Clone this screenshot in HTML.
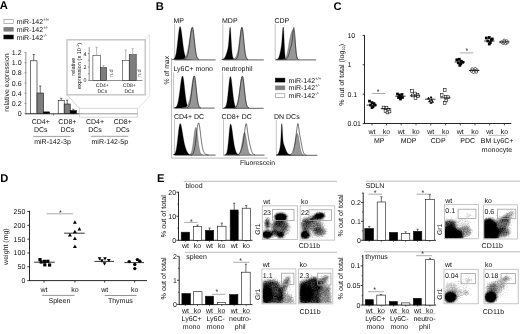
<!DOCTYPE html>
<html><head><meta charset="utf-8"><style>
html,body{margin:0;padding:0;background:#fff;}
svg{display:block;will-change:transform;}
text{font-family:"Liberation Sans", sans-serif;text-rendering:geometricPrecision;}
</style></head><body>
<svg width="520" height="334" viewBox="0 0 520 334">
<defs><filter id="sp0" color-interpolation-filters="sRGB" x="-5%" y="-5%" width="110%" height="110%">
<feGaussianBlur in="SourceGraphic" stdDeviation="1.5" result="d"/>
<feTurbulence type="fractalNoise" baseFrequency="0.8" numOctaves="2" seed="3" result="t"/>
<feColorMatrix in="t" type="matrix" values="0 0 0 0 0  0 0 0 0 0  0 0 0 0 0  1 0 0 0 0" result="n"/>
<feComposite in="d" in2="n" operator="arithmetic" k1="0" k2="1.6" k3="0.5" k4="-0.36" result="o"/>
<feGaussianBlur in="o" stdDeviation="0.75"/>
</filter><filter id="sp1" color-interpolation-filters="sRGB" x="-5%" y="-5%" width="110%" height="110%">
<feGaussianBlur in="SourceGraphic" stdDeviation="1.5" result="d"/>
<feTurbulence type="fractalNoise" baseFrequency="0.8" numOctaves="2" seed="7" result="t"/>
<feColorMatrix in="t" type="matrix" values="0 0 0 0 0  0 0 0 0 0  0 0 0 0 0  1 0 0 0 0" result="n"/>
<feComposite in="d" in2="n" operator="arithmetic" k1="0" k2="1.6" k3="0.5" k4="-0.36" result="o"/>
<feGaussianBlur in="o" stdDeviation="0.75"/>
</filter><filter id="sp2" color-interpolation-filters="sRGB" x="-5%" y="-5%" width="110%" height="110%">
<feGaussianBlur in="SourceGraphic" stdDeviation="1.5" result="d"/>
<feTurbulence type="fractalNoise" baseFrequency="0.8" numOctaves="2" seed="11" result="t"/>
<feColorMatrix in="t" type="matrix" values="0 0 0 0 0  0 0 0 0 0  0 0 0 0 0  1 0 0 0 0" result="n"/>
<feComposite in="d" in2="n" operator="arithmetic" k1="0" k2="1.6" k3="0.5" k4="-0.36" result="o"/>
<feGaussianBlur in="o" stdDeviation="0.75"/>
</filter></defs>
<rect width="520" height="334" fill="#fff"/>
<text x="-0.20" y="9.40" font-size="11.2" text-anchor="start" fill="#000" font-weight="bold">A</text>
<rect x="3.90" y="19.60" width="9.30" height="3.80" fill="#fff" stroke="#999" stroke-width="0.7"/>
<text x="16.7" y="24.10" font-size="7" fill="#111">miR-142<tspan font-size="4.3" dy="-2.9">+/+</tspan></text>
<rect x="3.90" y="27.35" width="9.30" height="3.80" fill="#7d7d7d" stroke="#7d7d7d" stroke-width="0.7"/>
<text x="16.7" y="31.85" font-size="7" fill="#111">miR-142<tspan font-size="4.3" dy="-2.9">+/-</tspan></text>
<rect x="3.90" y="35.10" width="9.30" height="3.80" fill="#000" stroke="#000" stroke-width="0.7"/>
<text x="16.7" y="39.60" font-size="7" fill="#111">miR-142<tspan font-size="4.3" dy="-2.9">-/-</tspan></text>
<line x1="25.80" y1="52.30" x2="25.80" y2="114.20" stroke="#888" stroke-width="0.9"/>
<line x1="24.30" y1="113.60" x2="26.50" y2="113.60" stroke="#888" stroke-width="0.7"/>
<text x="21.60" y="116.10" font-size="7" text-anchor="end" fill="#111">0</text>
<line x1="24.30" y1="103.42" x2="26.50" y2="103.42" stroke="#888" stroke-width="0.7"/>
<text x="21.60" y="105.92" font-size="7" text-anchor="end" fill="#111">0.2</text>
<line x1="24.30" y1="93.24" x2="26.50" y2="93.24" stroke="#888" stroke-width="0.7"/>
<text x="21.60" y="95.74" font-size="7" text-anchor="end" fill="#111">0.4</text>
<line x1="24.30" y1="83.06" x2="26.50" y2="83.06" stroke="#888" stroke-width="0.7"/>
<text x="21.60" y="85.56" font-size="7" text-anchor="end" fill="#111">0.6</text>
<line x1="24.30" y1="72.88" x2="26.50" y2="72.88" stroke="#888" stroke-width="0.7"/>
<text x="21.60" y="75.38" font-size="7" text-anchor="end" fill="#111">0.8</text>
<line x1="24.30" y1="62.70" x2="26.50" y2="62.70" stroke="#888" stroke-width="0.7"/>
<text x="21.60" y="65.20" font-size="7" text-anchor="end" fill="#111">1.0</text>
<line x1="24.30" y1="52.52" x2="26.50" y2="52.52" stroke="#888" stroke-width="0.7"/>
<text x="21.60" y="55.02" font-size="7" text-anchor="end" fill="#111">1.2</text>
<text x="8.60" y="82.50" font-size="7" text-anchor="middle" fill="#111" transform="rotate(-90 8.6 82.5)">relative expression</text>
<line x1="25.50" y1="113.80" x2="79.50" y2="113.80" stroke="#222" stroke-width="0.9"/>
<line x1="53.60" y1="113.80" x2="53.60" y2="115.50" stroke="#333" stroke-width="0.7"/>
<rect x="30.50" y="60.80" width="6.50" height="52.80" fill="#fff" stroke="#111" stroke-width="0.6"/>
<line x1="33.75" y1="60.80" x2="33.75" y2="54.50" stroke="#333" stroke-width="0.7"/>
<line x1="32.65" y1="54.50" x2="34.85" y2="54.50" stroke="#333" stroke-width="0.7"/>
<rect x="37.00" y="93.00" width="6.50" height="20.60" fill="#7d7d7d" stroke="#111" stroke-width="0.6"/>
<line x1="40.25" y1="93.00" x2="40.25" y2="86.00" stroke="#333" stroke-width="0.7"/>
<line x1="39.15" y1="86.00" x2="41.35" y2="86.00" stroke="#333" stroke-width="0.7"/>
<rect x="43.50" y="111.90" width="6.10" height="1.70" fill="#000" stroke="#111" stroke-width="0.6"/>
<rect x="58.20" y="100.40" width="6.00" height="13.20" fill="#fff" stroke="#111" stroke-width="0.6"/>
<line x1="61.20" y1="100.40" x2="61.20" y2="98.30" stroke="#333" stroke-width="0.7"/>
<line x1="60.10" y1="98.30" x2="62.30" y2="98.30" stroke="#333" stroke-width="0.7"/>
<rect x="64.20" y="104.00" width="6.00" height="9.60" fill="#7d7d7d" stroke="#111" stroke-width="0.6"/>
<line x1="67.20" y1="104.00" x2="67.20" y2="100.20" stroke="#333" stroke-width="0.7"/>
<line x1="66.10" y1="100.20" x2="68.30" y2="100.20" stroke="#333" stroke-width="0.7"/>
<rect x="70.20" y="110.60" width="6.20" height="3.00" fill="#000" stroke="#111" stroke-width="0.6"/>
<line x1="73.30" y1="110.60" x2="73.30" y2="109.30" stroke="#333" stroke-width="0.7"/>
<line x1="72.20" y1="109.30" x2="74.40" y2="109.30" stroke="#333" stroke-width="0.7"/>
<text x="40.70" y="124.30" font-size="7" text-anchor="middle" fill="#111">CD4+</text>
<text x="40.70" y="132.30" font-size="7" text-anchor="middle" fill="#111">DCs</text>
<text x="67.40" y="124.30" font-size="7" text-anchor="middle" fill="#111">CD8+</text>
<text x="67.40" y="132.30" font-size="7" text-anchor="middle" fill="#111">DCs</text>
<text x="95.00" y="124.30" font-size="7" text-anchor="middle" fill="#111">CD4+</text>
<text x="95.00" y="132.30" font-size="7" text-anchor="middle" fill="#111">DCs</text>
<text x="122.80" y="124.30" font-size="7" text-anchor="middle" fill="#111">CD8+</text>
<text x="122.80" y="132.30" font-size="7" text-anchor="middle" fill="#111">DCs</text>
<line x1="33.20" y1="136.40" x2="70.70" y2="136.40" stroke="#777" stroke-width="0.7"/>
<line x1="90.80" y1="136.30" x2="128.20" y2="136.30" stroke="#777" stroke-width="0.7"/>
<text x="52.50" y="144.00" font-size="7" text-anchor="middle" fill="#111">miR-142-3p</text>
<text x="109.80" y="144.00" font-size="7" text-anchor="middle" fill="#111">miR-142-5p</text>
<path d="M67,94.8 L79.5,108.3" fill="none" stroke="#c4c4c4" stroke-width="0.8"/>
<path d="M145.2,39.8 L149.6,34.2 L149.6,96 L138.3,108.3" fill="none" stroke="#dadada" stroke-width="0.8"/>
<rect x="79.50" y="108.30" width="58.00" height="8.90" fill="none" stroke="#cfcfcf" stroke-width="0.8"/>
<line x1="79.50" y1="113.80" x2="137.30" y2="113.80" stroke="#555" stroke-width="0.6"/>
<rect x="67.00" y="39.80" width="78.20" height="55.00" fill="none" stroke="#c4c4c4" stroke-width="1.4"/>
<line x1="89.20" y1="47.20" x2="89.20" y2="80.60" stroke="#444" stroke-width="0.6"/>
<line x1="87.90" y1="80.40" x2="89.20" y2="80.40" stroke="#444" stroke-width="0.5"/>
<line x1="87.90" y1="73.70" x2="89.20" y2="73.70" stroke="#444" stroke-width="0.5"/>
<line x1="87.90" y1="67.00" x2="89.20" y2="67.00" stroke="#444" stroke-width="0.5"/>
<line x1="87.90" y1="60.30" x2="89.20" y2="60.30" stroke="#444" stroke-width="0.5"/>
<line x1="87.90" y1="53.60" x2="89.20" y2="53.60" stroke="#444" stroke-width="0.5"/>
<text x="86.40" y="82.30" font-size="5.3" text-anchor="end" fill="#111">0</text>
<text x="86.40" y="68.90" font-size="5.3" text-anchor="end" fill="#111">2</text>
<text x="86.40" y="55.50" font-size="5.3" text-anchor="end" fill="#111">4</text>
<text x="75.50" y="66.60" font-size="5.6" text-anchor="middle" fill="#111" transform="rotate(-90 75.5 66.6)">relative</text>
<text x="80.6" y="66.0" font-size="5.6" text-anchor="middle" fill="#111" transform="rotate(-90 80.6 66.0)">expression (x 10<tspan font-size="3.6" dy="-2">-1</tspan><tspan dy="2">)</tspan></text>
<line x1="89.20" y1="80.50" x2="142.50" y2="80.50" stroke="#444" stroke-width="0.6"/>
<rect x="92.90" y="55.40" width="7.50" height="25.00" fill="#fff" stroke="#111" stroke-width="0.5"/>
<line x1="96.65" y1="55.40" x2="96.65" y2="47.30" stroke="#999" stroke-width="0.7"/>
<line x1="95.55" y1="47.30" x2="97.75" y2="47.30" stroke="#999" stroke-width="0.7"/>
<rect x="100.40" y="67.60" width="6.20" height="12.80" fill="#7d7d7d" stroke="#111" stroke-width="0.5"/>
<line x1="103.50" y1="67.60" x2="103.50" y2="65.60" stroke="#999" stroke-width="0.7"/>
<line x1="102.40" y1="65.60" x2="104.60" y2="65.60" stroke="#999" stroke-width="0.7"/>
<rect x="122.30" y="60.50" width="6.90" height="19.90" fill="#fff" stroke="#111" stroke-width="0.5"/>
<line x1="125.75" y1="60.50" x2="125.75" y2="50.00" stroke="#999" stroke-width="0.7"/>
<line x1="124.65" y1="50.00" x2="126.85" y2="50.00" stroke="#999" stroke-width="0.7"/>
<rect x="129.20" y="54.70" width="7.00" height="25.70" fill="#7d7d7d" stroke="#111" stroke-width="0.5"/>
<line x1="132.70" y1="54.70" x2="132.70" y2="48.70" stroke="#999" stroke-width="0.7"/>
<line x1="131.60" y1="48.70" x2="133.80" y2="48.70" stroke="#999" stroke-width="0.7"/>
<text x="112.60" y="73.20" font-size="5.6" text-anchor="middle" fill="#555" transform="rotate(-90 112.6 73.2)">n.d</text>
<text x="141.50" y="73.20" font-size="5.6" text-anchor="middle" fill="#555" transform="rotate(-90 141.5 73.2)">n.d</text>
<text x="102.30" y="87.30" font-size="5" text-anchor="middle" fill="#111">CD4+</text>
<text x="102.30" y="93.40" font-size="5" text-anchor="middle" fill="#111">DCs</text>
<text x="129.30" y="87.30" font-size="5" text-anchor="middle" fill="#111">CD8+</text>
<text x="129.30" y="93.40" font-size="5" text-anchor="middle" fill="#111">DCs</text>
<text x="155.80" y="9.60" font-size="11.2" text-anchor="start" fill="#000" font-weight="bold">B</text>
<text x="173.40" y="22.60" font-size="7" text-anchor="start" fill="#111">MP</text>
<line x1="174.60" y1="24.00" x2="174.60" y2="59.50" stroke="#aaa" stroke-width="0.7"/>
<line x1="174.60" y1="59.80" x2="215.60" y2="59.80" stroke="#808080" stroke-width="1.2"/>
<path d="M171.60,59.50 L171.60,59.47 L171.85,59.46 L172.09,59.45 L172.34,59.43 L172.59,59.40 L172.84,59.36 L173.09,59.30 L173.33,59.22 L173.58,59.11 L173.83,58.97 L174.07,58.78 L174.32,58.53 L174.57,58.20 L174.82,57.79 L175.06,57.26 L175.31,56.61 L175.56,55.82 L175.81,54.86 L176.06,53.72 L176.30,52.39 L176.55,50.87 L176.80,49.16 L177.04,47.26 L177.29,45.21 L177.54,43.03 L177.79,40.77 L178.03,38.47 L178.28,36.20 L178.53,34.03 L178.78,32.03 L179.03,30.26 L179.27,28.78 L179.52,27.65 L179.77,26.92 L180.01,26.60 L180.26,26.69 L180.51,27.17 L180.76,28.01 L181.00,29.18 L181.25,30.65 L181.50,32.36 L181.75,34.25 L182.00,36.26 L182.24,38.35 L182.49,40.44 L182.74,42.51 L182.99,44.49 L183.23,46.37 L183.48,48.12 L183.73,49.71 L183.97,51.15 L184.22,52.42 L184.47,53.54 L184.72,54.51 L184.97,55.34 L185.21,56.04 L185.46,56.64 L185.71,57.14 L185.96,57.55 L186.20,57.90 L186.45,58.18 L186.70,58.42 L186.94,58.61 L187.19,58.77 L187.44,58.90 L187.69,59.01 L187.94,59.10 L188.18,59.17 L188.43,59.23 L188.68,59.28 L188.93,59.33 L189.17,59.36 L189.42,59.39 L189.67,59.41 L189.91,59.43 L190.16,59.44 L190.41,59.46 L190.66,59.47 L190.91,59.47 L191.15,59.48 L191.40,59.48 L191.40,59.50 Z" fill="#000" stroke="#000" stroke-width="0.3"/>
<path d="M180.25,59.50 L180.25,59.49 L180.48,59.48 L180.72,59.47 L180.95,59.47 L181.18,59.46 L181.42,59.44 L181.65,59.42 L181.88,59.40 L182.12,59.37 L182.35,59.34 L182.58,59.30 L182.81,59.24 L183.05,59.18 L183.28,59.10 L183.51,59.01 L183.75,58.90 L183.98,58.77 L184.21,58.62 L184.45,58.44 L184.68,58.24 L184.91,58.00 L185.15,57.72 L185.38,57.41 L185.61,57.04 L185.84,56.63 L186.08,56.16 L186.31,55.63 L186.54,55.03 L186.78,54.35 L187.01,53.60 L187.24,52.76 L187.48,51.83 L187.71,50.81 L187.94,49.69 L188.18,48.48 L188.41,47.17 L188.64,45.78 L188.88,44.31 L189.11,42.77 L189.34,41.18 L189.57,39.57 L189.81,37.94 L190.04,36.33 L190.27,34.77 L190.51,33.29 L190.74,31.91 L190.97,30.68 L191.21,29.61 L191.44,28.74 L191.67,28.08 L191.91,27.67 L192.14,27.50 L192.37,27.60 L192.61,28.07 L192.84,28.93 L193.07,30.15 L193.31,31.70 L193.54,33.51 L193.77,35.52 L194.00,37.67 L194.24,39.89 L194.47,42.12 L194.70,44.31 L194.94,46.39 L195.17,48.34 L195.40,50.13 L195.64,51.74 L195.87,53.16 L196.10,54.38 L196.34,55.43 L196.57,56.31 L196.80,57.03 L197.03,57.61 L197.27,58.08 L197.50,58.44 L197.73,58.72 L197.97,58.94 L198.20,59.10 L198.43,59.22 L198.67,59.30 L198.90,59.37 L198.90,59.50 Z" fill="#979797" stroke="#555" stroke-width="0.45"/>
<path d="M184.48,59.50 L184.48,59.36 L184.66,59.32 L184.84,59.27 L185.02,59.21 L185.21,59.14 L185.39,59.05 L185.57,58.94 L185.75,58.81 L185.93,58.65 L186.11,58.46 L186.30,58.23 L186.48,57.97 L186.66,57.66 L186.84,57.30 L187.02,56.89 L187.20,56.41 L187.38,55.87 L187.57,55.26 L187.75,54.58 L187.93,53.82 L188.11,52.98 L188.29,52.06 L188.47,51.05 L188.65,49.97 L188.84,48.80 L189.02,47.57 L189.20,46.26 L189.38,44.90 L189.56,43.49 L189.74,42.04 L189.93,40.57 L190.11,39.09 L190.29,37.63 L190.47,36.19 L190.65,34.80 L190.83,33.47 L191.01,32.23 L191.20,31.09 L191.38,30.08 L191.56,29.20 L191.74,28.48 L191.92,27.92 L192.10,27.53 L192.28,27.32 L192.47,27.30 L192.65,27.53 L192.83,28.02 L193.01,28.75 L193.19,29.71 L193.37,30.88 L193.56,32.23 L193.74,33.73 L193.92,35.35 L194.10,37.05 L194.28,38.80 L194.46,40.57 L194.64,42.33 L194.83,44.06 L195.01,45.72 L195.19,47.31 L195.37,48.80 L195.55,50.19 L195.73,51.46 L195.91,52.62 L196.10,53.66 L196.28,54.58 L196.46,55.39 L196.64,56.10 L196.82,56.70 L197.00,57.22 L197.19,57.66 L197.37,58.02 L197.55,58.33 L197.73,58.57 L197.91,58.78 L198.09,58.94 L198.27,59.07 L198.46,59.17 L198.64,59.25 L198.82,59.31 L199.00,59.36" fill="none" stroke="#111" stroke-width="0.6"/>
<text x="222.00" y="22.70" font-size="7" text-anchor="start" fill="#111">MDP</text>
<line x1="222.80" y1="24.00" x2="222.80" y2="59.50" stroke="#aaa" stroke-width="0.7"/>
<line x1="222.80" y1="59.80" x2="263.80" y2="59.80" stroke="#808080" stroke-width="1.2"/>
<path d="M221.48,59.50 L221.48,59.45 L221.65,59.43 L221.83,59.41 L222.00,59.39 L222.17,59.37 L222.35,59.33 L222.52,59.30 L222.69,59.25 L222.87,59.19 L223.04,59.13 L223.21,59.05 L223.39,58.96 L223.56,58.85 L223.73,58.73 L223.91,58.59 L224.08,58.43 L224.25,58.25 L224.43,58.04 L224.60,57.81 L224.77,57.56 L224.95,57.27 L225.12,56.96 L225.29,56.62 L225.46,56.25 L225.64,55.85 L225.81,55.42 L225.98,54.97 L226.16,54.49 L226.33,53.99 L226.50,53.47 L226.68,52.94 L226.85,52.38 L227.02,51.82 L227.20,51.24 L227.37,50.63 L227.54,49.99 L227.72,49.28 L227.89,48.49 L228.06,47.58 L228.24,46.48 L228.41,45.17 L228.58,43.59 L228.76,41.72 L228.93,39.59 L229.10,37.23 L229.28,34.77 L229.45,32.35 L229.62,30.20 L229.80,28.53 L229.97,27.52 L230.14,27.30 L230.32,27.93 L230.49,29.37 L230.66,31.53 L230.84,34.22 L231.01,37.25 L231.18,40.40 L231.36,43.47 L231.53,46.31 L231.70,48.83 L231.88,50.98 L232.05,52.75 L232.22,54.18 L232.39,55.31 L232.57,56.20 L232.74,56.89 L232.91,57.43 L233.09,57.85 L233.26,58.19 L233.43,58.46 L233.61,58.67 L233.78,58.85 L233.95,58.99 L234.13,59.10 L234.30,59.19 L234.47,59.26 L234.65,59.32 L234.82,59.37 L234.99,59.40 L235.17,59.43 L235.34,59.45 L235.34,59.50 Z" fill="#000" stroke="#000" stroke-width="0.3"/>
<path d="M230.25,59.50 L230.25,59.48 L230.47,59.48 L230.69,59.47 L230.91,59.46 L231.13,59.45 L231.35,59.44 L231.57,59.42 L231.79,59.40 L232.01,59.37 L232.23,59.34 L232.45,59.30 L232.67,59.26 L232.89,59.20 L233.11,59.14 L233.33,59.06 L233.55,58.97 L233.77,58.87 L233.99,58.76 L234.21,58.62 L234.43,58.47 L234.65,58.30 L234.87,58.11 L235.09,57.90 L235.31,57.66 L235.53,57.39 L235.75,57.08 L235.97,56.74 L236.19,56.36 L236.41,55.92 L236.63,55.43 L236.85,54.87 L237.07,54.23 L237.29,53.51 L237.51,52.69 L237.73,51.77 L237.95,50.74 L238.17,49.59 L238.39,48.31 L238.61,46.92 L238.83,45.41 L239.05,43.80 L239.26,42.11 L239.48,40.35 L239.70,38.56 L239.92,36.77 L240.14,35.02 L240.36,33.36 L240.58,31.82 L240.80,30.46 L241.02,29.31 L241.24,28.42 L241.46,27.80 L241.68,27.50 L241.90,27.52 L242.12,27.92 L242.34,28.75 L242.56,29.99 L242.78,31.58 L243.00,33.47 L243.22,35.58 L243.44,37.83 L243.66,40.16 L243.88,42.49 L244.10,44.76 L244.32,46.91 L244.54,48.90 L244.76,50.71 L244.98,52.32 L245.20,53.72 L245.42,54.92 L245.64,55.92 L245.86,56.74 L246.08,57.41 L246.30,57.93 L246.52,58.35 L246.74,58.66 L246.96,58.90 L247.18,59.08 L247.40,59.21 L247.62,59.30 L247.84,59.36 L247.84,59.50 Z" fill="#979797" stroke="#555" stroke-width="0.45"/>
<path d="M235.40,59.50 L235.40,59.36 L235.56,59.32 L235.71,59.27 L235.87,59.21 L236.03,59.13 L236.18,59.03 L236.34,58.91 L236.50,58.77 L236.65,58.60 L236.81,58.39 L236.97,58.14 L237.12,57.85 L237.28,57.51 L237.44,57.11 L237.59,56.65 L237.75,56.13 L237.91,55.53 L238.06,54.85 L238.22,54.09 L238.38,53.25 L238.53,52.32 L238.69,51.30 L238.85,50.20 L239.01,49.00 L239.16,47.73 L239.32,46.39 L239.48,44.98 L239.63,43.52 L239.79,42.02 L239.95,40.50 L240.10,38.97 L240.26,37.45 L240.42,35.97 L240.57,34.54 L240.73,33.18 L240.89,31.92 L241.04,30.78 L241.20,29.78 L241.36,28.92 L241.51,28.24 L241.67,27.73 L241.83,27.42 L241.98,27.30 L242.14,27.40 L242.30,27.73 L242.45,28.31 L242.61,29.10 L242.77,30.10 L242.92,31.27 L243.08,32.61 L243.24,34.08 L243.39,35.64 L243.55,37.29 L243.71,38.97 L243.86,40.67 L244.02,42.36 L244.18,44.01 L244.33,45.62 L244.49,47.15 L244.65,48.59 L244.81,49.94 L244.96,51.18 L245.12,52.32 L245.28,53.35 L245.43,54.27 L245.59,55.09 L245.75,55.80 L245.90,56.43 L246.06,56.97 L246.22,57.43 L246.37,57.82 L246.53,58.14 L246.69,58.41 L246.84,58.64 L247.00,58.82 L247.16,58.97 L247.31,59.09 L247.47,59.18 L247.63,59.26 L247.78,59.32 L247.94,59.36" fill="none" stroke="#111" stroke-width="0.6"/>
<text x="274.40" y="22.70" font-size="7" text-anchor="start" fill="#111">CDP</text>
<line x1="275.20" y1="24.00" x2="275.20" y2="59.50" stroke="#aaa" stroke-width="0.7"/>
<line x1="275.20" y1="59.80" x2="316.20" y2="59.80" stroke="#808080" stroke-width="1.2"/>
<path d="M276.26,59.50 L276.26,59.44 L276.38,59.43 L276.51,59.41 L276.63,59.39 L276.75,59.37 L276.88,59.33 L277.00,59.30 L277.13,59.25 L277.25,59.20 L277.37,59.14 L277.50,59.07 L277.62,58.98 L277.75,58.89 L277.87,58.78 L277.99,58.65 L278.12,58.50 L278.24,58.34 L278.36,58.15 L278.49,57.94 L278.61,57.70 L278.74,57.45 L278.86,57.16 L278.98,56.85 L279.11,56.51 L279.23,56.14 L279.35,55.75 L279.48,55.32 L279.60,54.88 L279.72,54.40 L279.85,53.91 L279.97,53.39 L280.10,52.85 L280.22,52.30 L280.34,51.73 L280.47,51.14 L280.59,50.53 L280.71,49.90 L280.84,49.24 L280.96,48.55 L281.09,47.81 L281.21,47.01 L281.33,46.12 L281.46,45.15 L281.58,44.06 L281.70,42.84 L281.83,41.49 L281.95,39.99 L282.08,38.36 L282.20,36.61 L282.32,34.82 L282.45,33.07 L282.57,31.42 L282.69,29.94 L282.82,28.70 L282.94,27.75 L283.07,27.17 L283.19,27.00 L283.31,27.28 L283.44,28.01 L283.56,29.28 L283.68,31.05 L283.81,33.26 L283.93,35.79 L284.06,38.53 L284.18,41.33 L284.30,44.10 L284.43,46.72 L284.55,49.12 L284.67,51.25 L284.80,53.08 L284.92,54.61 L285.05,55.85 L285.17,56.83 L285.29,57.58 L285.42,58.15 L285.54,58.57 L285.66,58.86 L285.79,59.07 L285.91,59.22 L286.04,59.32 L286.16,59.38 L286.16,59.50 Z" fill="#000" stroke="#000" stroke-width="0.3"/>
<path d="M283.41,59.50 L283.41,59.40 L283.60,59.37 L283.79,59.33 L283.98,59.29 L284.17,59.22 L284.36,59.15 L284.55,59.06 L284.74,58.94 L284.93,58.80 L285.12,58.64 L285.31,58.44 L285.50,58.20 L285.69,57.93 L285.88,57.60 L286.07,57.23 L286.26,56.79 L286.45,56.30 L286.64,55.75 L286.83,55.13 L287.02,54.44 L287.21,53.68 L287.40,52.85 L287.59,51.96 L287.78,51.00 L287.97,49.99 L288.16,48.93 L288.35,47.83 L288.54,46.70 L288.73,45.56 L288.92,44.40 L289.11,43.26 L289.30,42.14 L289.49,41.04 L289.68,40.00 L289.87,39.00 L290.06,38.05 L290.25,37.16 L290.44,36.33 L290.63,35.55 L290.82,34.81 L291.01,34.10 L291.21,33.44 L291.40,32.84 L291.59,32.29 L291.78,31.77 L291.97,31.29 L292.16,30.83 L292.35,30.42 L292.54,30.05 L292.73,29.76 L292.92,29.56 L293.11,29.50 L293.30,29.60 L293.49,29.90 L293.68,30.41 L293.87,31.16 L294.06,32.16 L294.25,33.44 L294.44,34.98 L294.63,36.75 L294.82,38.70 L295.01,40.77 L295.20,42.90 L295.39,45.03 L295.58,47.08 L295.77,49.02 L295.96,50.81 L296.15,52.41 L296.34,53.82 L296.53,55.03 L296.72,56.04 L296.91,56.86 L297.10,57.53 L297.29,58.05 L297.48,58.45 L297.67,58.76 L297.86,58.98 L298.05,59.14 L298.24,59.26 L298.43,59.34 L298.62,59.40 L298.62,59.50 Z" fill="#979797" stroke="#555" stroke-width="0.45"/>
<path d="M284.90,59.50 L284.90,59.44 L285.07,59.43 L285.23,59.41 L285.40,59.38 L285.57,59.34 L285.74,59.30 L285.90,59.24 L286.07,59.18 L286.24,59.10 L286.41,59.00 L286.57,58.88 L286.74,58.74 L286.91,58.58 L287.08,58.39 L287.24,58.17 L287.41,57.91 L287.58,57.62 L287.75,57.30 L287.91,56.93 L288.08,56.52 L288.25,56.08 L288.41,55.59 L288.58,55.07 L288.75,54.51 L288.92,53.92 L289.08,53.31 L289.25,52.67 L289.42,52.02 L289.59,51.37 L289.75,50.71 L289.92,50.07 L290.09,49.44 L290.26,48.83 L290.42,48.25 L290.59,47.69 L290.76,47.14 L290.93,46.61 L291.09,46.06 L291.26,45.47 L291.43,44.82 L291.60,44.07 L291.76,43.25 L291.93,42.32 L292.10,41.25 L292.26,40.01 L292.43,38.59 L292.60,37.00 L292.77,35.30 L292.93,33.53 L293.10,31.80 L293.27,30.22 L293.44,28.90 L293.60,27.96 L293.77,27.50 L293.94,27.59 L294.11,28.22 L294.27,29.27 L294.44,30.68 L294.61,32.42 L294.78,34.43 L294.94,36.64 L295.11,38.97 L295.28,41.35 L295.44,43.71 L295.61,45.97 L295.78,48.10 L295.95,50.04 L296.11,51.78 L296.28,53.30 L296.45,54.61 L296.62,55.70 L296.78,56.59 L296.95,57.31 L297.12,57.88 L297.29,58.32 L297.45,58.66 L297.62,58.91 L297.79,59.09 L297.96,59.22 L298.12,59.31 L298.29,59.38" fill="none" stroke="#111" stroke-width="0.6"/>
<text x="173.40" y="71.00" font-size="7" text-anchor="start" fill="#111">Ly6C+ mono</text>
<line x1="173.60" y1="72.40" x2="173.60" y2="107.90" stroke="#aaa" stroke-width="0.7"/>
<line x1="173.60" y1="108.20" x2="214.60" y2="108.20" stroke="#808080" stroke-width="1.2"/>
<path d="M174.58,107.90 L174.58,107.76 L174.77,107.72 L174.95,107.67 L175.14,107.61 L175.32,107.54 L175.51,107.44 L175.69,107.33 L175.88,107.19 L176.06,107.02 L176.25,106.82 L176.44,106.59 L176.62,106.31 L176.81,105.98 L176.99,105.61 L177.18,105.17 L177.36,104.67 L177.55,104.10 L177.74,103.45 L177.92,102.73 L178.11,101.92 L178.29,101.04 L178.48,100.06 L178.66,99.00 L178.85,97.86 L179.04,96.64 L179.22,95.35 L179.41,94.00 L179.59,92.58 L179.78,91.13 L179.96,89.65 L180.15,88.15 L180.33,86.66 L180.52,85.19 L180.71,83.77 L180.89,82.41 L181.08,81.13 L181.26,79.96 L181.45,78.91 L181.63,78.00 L181.82,77.24 L182.00,76.66 L182.19,76.25 L182.38,76.03 L182.56,76.00 L182.75,76.21 L182.93,76.66 L183.12,77.34 L183.30,78.24 L183.49,79.34 L183.68,80.61 L183.86,82.03 L184.05,83.57 L184.23,85.19 L184.42,86.87 L184.60,88.58 L184.79,90.28 L184.98,91.96 L185.16,93.60 L185.35,95.16 L185.53,96.64 L185.72,98.03 L185.90,99.32 L186.09,100.49 L186.27,101.55 L186.46,102.51 L186.65,103.35 L186.83,104.10 L187.02,104.74 L187.20,105.30 L187.39,105.77 L187.57,106.18 L187.76,106.51 L187.94,106.79 L188.13,107.02 L188.32,107.21 L188.50,107.36 L188.69,107.48 L188.87,107.58 L189.06,107.66 L189.24,107.72 L189.43,107.76 L189.43,107.90 Z" fill="#000" stroke="#000" stroke-width="0.3"/>
<path d="M181.75,107.90 L181.75,107.89 L181.98,107.88 L182.22,107.88 L182.45,107.87 L182.69,107.86 L182.92,107.84 L183.15,107.83 L183.39,107.81 L183.62,107.78 L183.86,107.75 L184.09,107.71 L184.32,107.66 L184.56,107.60 L184.79,107.53 L185.03,107.45 L185.26,107.36 L185.49,107.25 L185.73,107.12 L185.96,106.98 L186.20,106.81 L186.43,106.62 L186.66,106.41 L186.90,106.17 L187.13,105.89 L187.37,105.59 L187.60,105.24 L187.83,104.86 L188.07,104.42 L188.30,103.93 L188.54,103.39 L188.77,102.77 L189.00,102.07 L189.24,101.30 L189.47,100.43 L189.71,99.47 L189.94,98.41 L190.17,97.24 L190.41,95.97 L190.64,94.60 L190.88,93.14 L191.11,91.60 L191.34,89.99 L191.58,88.34 L191.81,86.67 L192.05,85.01 L192.28,83.40 L192.51,81.87 L192.75,80.45 L192.98,79.19 L193.22,78.11 L193.45,77.25 L193.68,76.63 L193.92,76.28 L194.15,76.20 L194.39,76.46 L194.62,77.16 L194.85,78.28 L195.09,79.78 L195.32,81.60 L195.56,83.66 L195.79,85.90 L196.02,88.22 L196.26,90.56 L196.49,92.85 L196.73,95.04 L196.96,97.07 L197.19,98.91 L197.43,100.56 L197.66,101.99 L197.90,103.22 L198.13,104.24 L198.36,105.09 L198.60,105.77 L198.83,106.31 L199.07,106.73 L199.30,107.05 L199.53,107.30 L199.77,107.48 L200.00,107.61 L200.24,107.70 L200.47,107.77 L200.47,107.90 Z" fill="#979797" stroke="#555" stroke-width="0.45"/>
<path d="M186.81,107.90 L186.81,107.76 L186.98,107.72 L187.16,107.68 L187.33,107.62 L187.50,107.54 L187.68,107.46 L187.85,107.35 L188.02,107.22 L188.20,107.06 L188.37,106.87 L188.54,106.65 L188.72,106.39 L188.89,106.09 L189.06,105.74 L189.24,105.34 L189.41,104.87 L189.58,104.34 L189.76,103.75 L189.93,103.08 L190.10,102.33 L190.28,101.51 L190.45,100.61 L190.62,99.62 L190.79,98.56 L190.97,97.42 L191.14,96.21 L191.31,94.93 L191.49,93.59 L191.66,92.20 L191.83,90.78 L192.01,89.33 L192.18,87.87 L192.35,86.42 L192.53,85.00 L192.70,83.62 L192.87,82.30 L193.05,81.06 L193.22,79.93 L193.39,78.91 L193.57,78.02 L193.74,77.28 L193.91,76.70 L194.09,76.29 L194.26,76.05 L194.43,76.00 L194.61,76.18 L194.78,76.63 L194.95,77.32 L195.13,78.24 L195.30,79.38 L195.47,80.69 L195.65,82.17 L195.82,83.76 L195.99,85.44 L196.17,87.18 L196.34,88.94 L196.51,90.70 L196.69,92.42 L196.86,94.09 L197.03,95.68 L197.21,97.17 L197.38,98.56 L197.55,99.84 L197.72,101.00 L197.90,102.04 L198.07,102.97 L198.24,103.78 L198.42,104.49 L198.59,105.10 L198.76,105.62 L198.94,106.06 L199.11,106.42 L199.28,106.73 L199.46,106.98 L199.63,107.18 L199.80,107.34 L199.98,107.47 L200.15,107.57 L200.32,107.65 L200.50,107.71 L200.67,107.76" fill="none" stroke="#111" stroke-width="0.6"/>
<text x="221.70" y="70.90" font-size="7" text-anchor="start" fill="#111">neutrophil</text>
<line x1="222.60" y1="72.50" x2="222.60" y2="108.00" stroke="#aaa" stroke-width="0.7"/>
<line x1="222.60" y1="108.30" x2="263.60" y2="108.30" stroke="#808080" stroke-width="1.2"/>
<path d="M224.13,108.00 L224.13,107.86 L224.29,107.82 L224.45,107.77 L224.61,107.70 L224.77,107.61 L224.93,107.50 L225.10,107.36 L225.26,107.19 L225.42,106.99 L225.58,106.74 L225.74,106.45 L225.90,106.09 L226.06,105.68 L226.22,105.19 L226.38,104.63 L226.54,103.99 L226.70,103.25 L226.86,102.42 L227.03,101.49 L227.19,100.46 L227.35,99.33 L227.51,98.11 L227.67,96.79 L227.83,95.38 L227.99,93.90 L228.15,92.36 L228.31,90.77 L228.47,89.16 L228.63,87.54 L228.80,85.95 L228.96,84.40 L229.12,82.92 L229.28,81.54 L229.44,80.28 L229.60,79.17 L229.76,78.23 L229.92,77.48 L230.08,76.94 L230.24,76.61 L230.40,76.50 L230.56,76.61 L230.73,76.92 L230.89,77.42 L231.05,78.11 L231.21,78.97 L231.37,79.99 L231.53,81.15 L231.69,82.43 L231.85,83.80 L232.01,85.24 L232.17,86.74 L232.33,88.27 L232.50,89.81 L232.66,91.33 L232.82,92.83 L232.98,94.28 L233.14,95.67 L233.30,96.99 L233.46,98.23 L233.62,99.39 L233.78,100.46 L233.94,101.44 L234.10,102.33 L234.27,103.13 L234.43,103.85 L234.59,104.48 L234.75,105.03 L234.91,105.52 L235.07,105.94 L235.23,106.30 L235.39,106.60 L235.55,106.86 L235.71,107.08 L235.87,107.26 L236.03,107.40 L236.20,107.53 L236.36,107.63 L236.52,107.71 L236.68,107.77 L236.84,107.82 L237.00,107.86 L237.00,108.00 Z" fill="#000" stroke="#000" stroke-width="0.3"/>
<path d="M234.05,108.00 L234.05,107.86 L234.24,107.83 L234.42,107.78 L234.61,107.72 L234.79,107.65 L234.98,107.57 L235.16,107.46 L235.35,107.34 L235.54,107.19 L235.72,107.01 L235.91,106.80 L236.09,106.56 L236.28,106.27 L236.46,105.94 L236.65,105.55 L236.83,105.11 L237.02,104.61 L237.21,104.05 L237.39,103.41 L237.58,102.71 L237.76,101.93 L237.95,101.07 L238.13,100.14 L238.32,99.13 L238.50,98.04 L238.69,96.88 L238.88,95.66 L239.06,94.38 L239.25,93.04 L239.43,91.67 L239.62,90.27 L239.80,88.85 L239.99,87.43 L240.18,86.03 L240.36,84.67 L240.55,83.35 L240.73,82.11 L240.92,80.95 L241.10,79.89 L241.29,78.96 L241.48,78.15 L241.66,77.50 L241.85,77.00 L242.03,76.66 L242.22,76.50 L242.40,76.52 L242.59,76.81 L242.77,77.36 L242.96,78.15 L243.15,79.18 L243.33,80.41 L243.52,81.81 L243.70,83.35 L243.89,85.01 L244.07,86.73 L244.26,88.50 L244.44,90.27 L244.63,92.02 L244.82,93.72 L245.00,95.35 L245.19,96.88 L245.37,98.32 L245.56,99.64 L245.74,100.85 L245.93,101.93 L246.12,102.89 L246.30,103.74 L246.49,104.48 L246.67,105.11 L246.86,105.65 L247.04,106.11 L247.23,106.49 L247.42,106.80 L247.60,107.06 L247.79,107.27 L247.97,107.43 L248.16,107.57 L248.34,107.67 L248.53,107.75 L248.71,107.82 L248.90,107.86 L248.90,108.00 Z" fill="#979797" stroke="#555" stroke-width="0.45"/>
<path d="M234.48,108.00 L234.48,107.86 L234.66,107.82 L234.84,107.78 L235.02,107.72 L235.21,107.65 L235.39,107.56 L235.57,107.45 L235.75,107.32 L235.93,107.16 L236.11,106.97 L236.30,106.75 L236.48,106.49 L236.66,106.19 L236.84,105.83 L237.02,105.43 L237.20,104.96 L237.38,104.43 L237.57,103.83 L237.75,103.16 L237.93,102.41 L238.11,101.58 L238.29,100.67 L238.47,99.68 L238.65,98.62 L238.84,97.47 L239.02,96.25 L239.20,94.97 L239.38,93.63 L239.56,92.24 L239.74,90.81 L239.93,89.36 L240.11,87.91 L240.29,86.47 L240.47,85.05 L240.65,83.68 L240.83,82.37 L241.01,81.15 L241.20,80.04 L241.38,79.04 L241.56,78.17 L241.74,77.46 L241.92,76.91 L242.10,76.52 L242.28,76.32 L242.47,76.30 L242.65,76.52 L242.83,77.00 L243.01,77.73 L243.19,78.67 L243.37,79.83 L243.56,81.15 L243.74,82.63 L243.92,84.22 L244.10,85.89 L244.28,87.62 L244.46,89.36 L244.64,91.10 L244.83,92.80 L245.01,94.44 L245.19,96.00 L245.37,97.47 L245.55,98.84 L245.73,100.09 L245.91,101.23 L246.10,102.25 L246.28,103.16 L246.46,103.96 L246.64,104.65 L246.82,105.25 L247.00,105.76 L247.19,106.19 L247.37,106.55 L247.55,106.84 L247.73,107.09 L247.91,107.29 L248.09,107.45 L248.27,107.58 L248.46,107.68 L248.64,107.75 L248.82,107.82 L249.00,107.86" fill="none" stroke="#111" stroke-width="0.6"/>
<text x="174.00" y="119.30" font-size="7" text-anchor="start" fill="#111">CD4+ DC</text>
<line x1="174.60" y1="119.40" x2="174.60" y2="154.90" stroke="#aaa" stroke-width="0.7"/>
<line x1="174.60" y1="155.20" x2="215.60" y2="155.20" stroke="#808080" stroke-width="1.2"/>
<path d="M173.30,154.90 L173.30,154.78 L173.53,154.72 L173.76,154.64 L173.99,154.54 L174.22,154.39 L174.45,154.20 L174.68,153.95 L174.91,153.62 L175.15,153.21 L175.38,152.69 L175.61,152.04 L175.84,151.26 L176.07,150.33 L176.30,149.23 L176.53,147.95 L176.76,146.51 L176.99,144.89 L177.22,143.11 L177.45,141.20 L177.68,139.18 L177.91,137.10 L178.14,134.99 L178.37,132.92 L178.60,130.93 L178.84,129.09 L179.07,127.45 L179.30,126.06 L179.53,124.97 L179.76,124.19 L179.99,123.75 L180.22,123.60 L180.45,123.73 L180.68,124.12 L180.91,124.75 L181.14,125.60 L181.37,126.63 L181.60,127.81 L181.83,129.11 L182.06,130.48 L182.29,131.90 L182.53,133.35 L182.76,134.78 L182.99,136.18 L183.22,137.54 L183.45,138.85 L183.68,140.09 L183.91,141.27 L184.14,142.38 L184.37,143.42 L184.60,144.41 L184.83,145.33 L185.06,146.19 L185.29,147.00 L185.52,147.77 L185.75,148.48 L185.98,149.15 L186.22,149.78 L186.45,150.36 L186.68,150.90 L186.91,151.40 L187.14,151.86 L187.37,152.27 L187.60,152.64 L187.83,152.98 L188.06,153.28 L188.29,153.54 L188.52,153.77 L188.75,153.97 L188.98,154.13 L189.21,154.28 L189.44,154.40 L189.67,154.50 L189.91,154.58 L190.14,154.65 L190.37,154.71 L190.60,154.75 L190.83,154.79 L191.06,154.81 L191.29,154.83 L191.52,154.85 L191.75,154.86 L191.75,154.90 Z" fill="#000" stroke="#000" stroke-width="0.3"/>
<path d="M189.20,154.90 L189.20,154.78 L189.37,154.75 L189.53,154.70 L189.70,154.64 L189.86,154.57 L190.03,154.48 L190.19,154.36 L190.36,154.23 L190.52,154.06 L190.69,153.86 L190.85,153.62 L191.02,153.33 L191.18,153.00 L191.35,152.61 L191.51,152.15 L191.68,151.63 L191.84,151.04 L192.01,150.37 L192.17,149.62 L192.34,148.79 L192.50,147.88 L192.67,146.88 L192.83,145.80 L193.00,144.65 L193.16,143.43 L193.33,142.16 L193.49,140.84 L193.66,139.48 L193.82,138.11 L193.99,136.75 L194.15,135.40 L194.32,134.10 L194.48,132.86 L194.65,131.71 L194.81,130.66 L194.98,129.73 L195.14,128.95 L195.31,128.33 L195.47,127.87 L195.64,127.59 L195.80,127.50 L195.97,127.59 L196.13,127.87 L196.30,128.33 L196.46,128.95 L196.62,129.73 L196.79,130.66 L196.96,131.71 L197.12,132.86 L197.29,134.10 L197.45,135.40 L197.62,136.75 L197.78,138.11 L197.95,139.48 L198.11,140.84 L198.28,142.16 L198.44,143.43 L198.61,144.65 L198.77,145.80 L198.94,146.88 L199.10,147.88 L199.27,148.79 L199.43,149.62 L199.59,150.37 L199.76,151.04 L199.93,151.63 L200.09,152.15 L200.25,152.61 L200.42,153.00 L200.59,153.33 L200.75,153.62 L200.92,153.86 L201.08,154.06 L201.25,154.23 L201.41,154.36 L201.58,154.48 L201.74,154.57 L201.91,154.64 L202.07,154.70 L202.24,154.75 L202.40,154.78 L202.40,154.90 Z" fill="#979797" stroke="#555" stroke-width="0.45"/>
<path d="M191.24,154.90 L191.24,154.77 L191.46,154.71 L191.67,154.65 L191.89,154.56 L192.11,154.44 L192.33,154.29 L192.54,154.10 L192.76,153.86 L192.98,153.57 L193.19,153.20 L193.41,152.75 L193.63,152.21 L193.84,151.58 L194.06,150.82 L194.28,149.95 L194.50,148.95 L194.71,147.81 L194.93,146.54 L195.15,145.13 L195.36,143.60 L195.58,141.95 L195.80,140.20 L196.01,138.38 L196.23,136.52 L196.45,134.63 L196.66,132.77 L196.88,130.97 L197.10,129.27 L197.32,127.70 L197.53,126.31 L197.75,125.13 L197.97,124.19 L198.18,123.51 L198.40,123.11 L198.62,123.00 L198.84,123.24 L199.05,123.81 L199.27,124.69 L199.49,125.85 L199.70,127.24 L199.92,128.83 L200.14,130.55 L200.35,132.37 L200.57,134.23 L200.79,136.08 L201.00,137.90 L201.22,139.65 L201.44,141.30 L201.66,142.84 L201.87,144.26 L202.09,145.55 L202.31,146.72 L202.52,147.76 L202.74,148.69 L202.96,149.52 L203.18,150.24 L203.39,150.88 L203.61,151.45 L203.83,151.94 L204.04,152.38 L204.26,152.76 L204.48,153.09 L204.69,153.38 L204.91,153.63 L205.13,153.85 L205.34,154.04 L205.56,154.20 L205.78,154.33 L206.00,154.45 L206.21,154.54 L206.43,154.62 L206.65,154.68 L206.86,154.73 L207.08,154.77 L207.30,154.80 L207.51,154.83 L207.73,154.85 L207.95,154.86 L208.17,154.87 L208.38,154.88 L208.60,154.89" fill="none" stroke="#111" stroke-width="0.6"/>
<text x="221.60" y="118.80" font-size="7" text-anchor="start" fill="#111">CD8+ DC</text>
<line x1="223.50" y1="119.30" x2="223.50" y2="154.80" stroke="#aaa" stroke-width="0.7"/>
<line x1="223.50" y1="155.10" x2="264.50" y2="155.10" stroke="#808080" stroke-width="1.2"/>
<path d="M225.12,154.80 L225.12,154.68 L225.30,154.62 L225.49,154.55 L225.67,154.44 L225.85,154.30 L226.04,154.11 L226.22,153.86 L226.40,153.55 L226.59,153.14 L226.77,152.63 L226.96,152.00 L227.14,151.24 L227.32,150.33 L227.51,149.26 L227.69,148.01 L227.87,146.60 L228.06,145.02 L228.24,143.29 L228.42,141.42 L228.61,139.44 L228.79,137.40 L228.97,135.33 L229.16,133.30 L229.34,131.35 L229.52,129.54 L229.71,127.92 L229.89,126.55 L230.07,125.46 L230.26,124.69 L230.44,124.26 L230.62,124.10 L230.81,124.17 L230.99,124.48 L231.18,125.00 L231.36,125.72 L231.54,126.61 L231.73,127.66 L231.91,128.83 L232.09,130.10 L232.28,131.44 L232.46,132.82 L232.64,134.23 L232.83,135.64 L233.01,137.03 L233.19,138.39 L233.38,139.71 L233.56,140.97 L233.74,142.17 L233.93,143.31 L234.11,144.39 L234.29,145.40 L234.48,146.34 L234.66,147.22 L234.85,148.03 L235.03,148.78 L235.21,149.48 L235.40,150.11 L235.58,150.69 L235.76,151.22 L235.95,151.69 L236.13,152.12 L236.31,152.51 L236.50,152.85 L236.68,153.15 L236.86,153.41 L237.05,153.64 L237.23,153.84 L237.41,154.01 L237.60,154.16 L237.78,154.28 L237.96,154.38 L238.15,154.47 L238.33,154.54 L238.52,154.59 L238.70,154.64 L238.88,154.68 L239.07,154.70 L239.25,154.73 L239.43,154.75 L239.62,154.76 L239.80,154.77 L239.80,154.80 Z" fill="#000" stroke="#000" stroke-width="0.3"/>
<path d="M237.34,154.80 L237.34,154.70 L237.51,154.68 L237.69,154.64 L237.86,154.60 L238.03,154.54 L238.21,154.47 L238.38,154.39 L238.55,154.29 L238.73,154.17 L238.90,154.02 L239.07,153.85 L239.25,153.65 L239.42,153.41 L239.59,153.13 L239.77,152.81 L239.94,152.44 L240.11,152.02 L240.29,151.54 L240.46,151.01 L240.63,150.42 L240.81,149.76 L240.98,149.05 L241.15,148.27 L241.32,147.44 L241.50,146.55 L241.67,145.61 L241.84,144.62 L242.02,143.60 L242.19,142.56 L242.36,141.49 L242.54,140.43 L242.71,139.38 L242.88,138.35 L243.06,137.36 L243.23,136.43 L243.40,135.56 L243.58,134.78 L243.75,134.10 L243.92,133.53 L244.10,133.08 L244.27,132.75 L244.44,132.56 L244.62,132.50 L244.79,132.60 L244.96,132.86 L245.14,133.29 L245.31,133.86 L245.48,134.57 L245.66,135.40 L245.83,136.34 L246.00,137.36 L246.18,138.45 L246.35,139.59 L246.52,140.75 L246.70,141.92 L246.87,143.08 L247.04,144.22 L247.22,145.32 L247.39,146.36 L247.56,147.35 L247.73,148.27 L247.91,149.12 L248.08,149.90 L248.25,150.60 L248.43,151.23 L248.60,151.79 L248.77,152.27 L248.95,152.70 L249.12,153.07 L249.29,153.38 L249.47,153.65 L249.64,153.87 L249.81,154.05 L249.99,154.21 L250.16,154.33 L250.33,154.43 L250.51,154.52 L250.68,154.58 L250.85,154.63 L251.03,154.67 L251.20,154.70 L251.20,154.80 Z" fill="#979797" stroke="#555" stroke-width="0.45"/>
<path d="M236.40,154.80 L236.40,154.77 L236.63,154.76 L236.87,154.74 L237.10,154.72 L237.33,154.68 L237.57,154.64 L237.80,154.58 L238.03,154.51 L238.27,154.41 L238.50,154.29 L238.73,154.14 L238.97,153.96 L239.20,153.74 L239.43,153.48 L239.67,153.18 L239.90,152.84 L240.13,152.46 L240.37,152.03 L240.60,151.56 L240.83,151.05 L241.06,150.50 L241.30,149.91 L241.53,149.27 L241.76,148.58 L242.00,147.84 L242.23,147.02 L242.46,146.12 L242.70,145.11 L242.93,143.98 L243.16,142.72 L243.40,141.32 L243.63,139.78 L243.86,138.10 L244.10,136.32 L244.33,134.46 L244.56,132.57 L244.80,130.70 L245.03,128.92 L245.26,127.27 L245.50,125.82 L245.73,124.62 L245.96,123.79 L246.20,123.60 L246.43,124.02 L246.66,124.96 L246.90,126.28 L247.13,127.86 L247.36,129.59 L247.60,131.40 L247.83,133.22 L248.06,134.93 L248.30,136.45 L248.53,137.81 L248.76,139.05 L249.00,140.23 L249.23,141.35 L249.46,142.46 L249.70,143.56 L249.93,144.65 L250.16,145.72 L250.40,146.75 L250.63,147.75 L250.86,148.68 L251.09,149.55 L251.33,150.35 L251.56,151.07 L251.79,151.70 L252.03,152.26 L252.26,152.74 L252.49,153.15 L252.73,153.49 L252.96,153.77 L253.19,154.00 L253.43,154.19 L253.66,154.34 L253.89,154.45 L254.13,154.54 L254.36,154.61 L254.59,154.66 L254.83,154.70 L255.06,154.73" fill="none" stroke="#111" stroke-width="0.6"/>
<text x="274.00" y="119.10" font-size="7" text-anchor="start" fill="#111">DN DCs</text>
<line x1="276.30" y1="119.50" x2="276.30" y2="155.00" stroke="#aaa" stroke-width="0.7"/>
<line x1="276.30" y1="155.30" x2="317.30" y2="155.30" stroke="#808080" stroke-width="1.2"/>
<path d="M276.06,155.00 L276.06,154.94 L276.25,154.92 L276.44,154.89 L276.63,154.85 L276.82,154.79 L277.01,154.72 L277.20,154.63 L277.39,154.51 L277.58,154.36 L277.77,154.18 L277.96,153.96 L278.15,153.68 L278.34,153.36 L278.53,152.98 L278.72,152.54 L278.91,152.03 L279.10,151.46 L279.29,150.83 L279.48,150.13 L279.67,149.36 L279.86,148.51 L280.04,147.53 L280.23,146.34 L280.42,144.79 L280.61,142.70 L280.80,139.89 L280.99,136.35 L281.18,132.32 L281.37,128.34 L281.56,125.19 L281.75,123.60 L281.94,123.94 L282.13,126.07 L282.32,129.35 L282.51,133.02 L282.70,136.39 L282.89,139.08 L283.08,141.03 L283.27,142.35 L283.46,143.25 L283.65,143.91 L283.84,144.46 L284.03,144.98 L284.22,145.50 L284.41,146.02 L284.60,146.55 L284.79,147.08 L284.98,147.61 L285.17,148.14 L285.36,148.66 L285.55,149.17 L285.74,149.66 L285.93,150.14 L286.12,150.59 L286.31,151.02 L286.50,151.42 L286.69,151.79 L286.88,152.14 L287.07,152.47 L287.26,152.77 L287.44,153.04 L287.63,153.28 L287.82,153.51 L288.01,153.71 L288.20,153.88 L288.39,154.04 L288.58,154.18 L288.77,154.30 L288.96,154.41 L289.15,154.50 L289.34,154.58 L289.53,154.65 L289.72,154.71 L289.91,154.76 L290.10,154.80 L290.29,154.84 L290.48,154.87 L290.67,154.89 L290.86,154.91 L291.05,154.93 L291.24,154.94 L291.24,155.00 Z" fill="#000" stroke="#000" stroke-width="0.3"/>
<path d="M290.60,155.00 L290.60,154.91 L290.76,154.88 L290.93,154.84 L291.09,154.80 L291.26,154.74 L291.42,154.67 L291.59,154.58 L291.75,154.47 L291.92,154.34 L292.08,154.18 L292.25,153.99 L292.41,153.77 L292.58,153.51 L292.74,153.20 L292.91,152.85 L293.07,152.44 L293.24,151.97 L293.40,151.45 L293.57,150.86 L293.73,150.21 L293.90,149.49 L294.06,148.71 L294.23,147.86 L294.39,146.96 L294.56,146.00 L294.72,145.00 L294.89,143.97 L295.06,142.90 L295.22,141.83 L295.38,140.76 L295.55,139.70 L295.71,138.68 L295.88,137.71 L296.04,136.80 L296.21,135.98 L296.38,135.25 L296.54,134.64 L296.70,134.15 L296.87,133.79 L297.03,133.57 L297.20,133.50 L297.37,133.57 L297.53,133.79 L297.69,134.15 L297.86,134.64 L298.02,135.25 L298.19,135.98 L298.36,136.80 L298.52,137.71 L298.69,138.68 L298.85,139.70 L299.01,140.76 L299.18,141.83 L299.34,142.90 L299.51,143.97 L299.68,145.00 L299.84,146.00 L300.00,146.96 L300.17,147.86 L300.33,148.71 L300.50,149.49 L300.67,150.21 L300.83,150.86 L301.00,151.45 L301.16,151.97 L301.32,152.44 L301.49,152.85 L301.66,153.20 L301.82,153.51 L301.99,153.77 L302.15,153.99 L302.31,154.18 L302.48,154.34 L302.64,154.47 L302.81,154.58 L302.98,154.67 L303.14,154.74 L303.31,154.80 L303.47,154.84 L303.63,154.88 L303.80,154.91 L303.80,155.00 Z" fill="#979797" stroke="#555" stroke-width="0.45"/>
<path d="M288.40,155.00 L288.40,154.97 L288.62,154.96 L288.84,154.95 L289.06,154.92 L289.28,154.89 L289.51,154.86 L289.73,154.81 L289.95,154.74 L290.17,154.66 L290.39,154.56 L290.61,154.43 L290.83,154.28 L291.06,154.10 L291.28,153.88 L291.50,153.63 L291.72,153.34 L291.94,153.02 L292.16,152.65 L292.38,152.24 L292.60,151.78 L292.82,151.29 L293.05,150.75 L293.27,150.16 L293.49,149.52 L293.71,148.82 L293.93,148.05 L294.15,147.21 L294.37,146.28 L294.59,145.24 L294.82,144.10 L295.04,142.83 L295.26,141.44 L295.48,139.94 L295.70,138.33 L295.92,136.63 L296.14,134.87 L296.37,133.08 L296.59,131.30 L296.81,129.56 L297.03,127.91 L297.25,126.40 L297.47,125.04 L297.69,123.95 L297.91,123.60 L298.13,124.02 L298.36,125.05 L298.58,126.49 L298.80,128.12 L299.02,129.80 L299.24,131.45 L299.46,133.04 L299.68,134.53 L299.91,135.83 L300.13,137.00 L300.35,138.11 L300.57,139.22 L300.79,140.35 L301.01,141.52 L301.23,142.72 L301.45,143.93 L301.68,145.14 L301.90,146.32 L302.12,147.45 L302.34,148.51 L302.56,149.49 L302.78,150.37 L303.00,151.17 L303.22,151.86 L303.44,152.46 L303.67,152.97 L303.89,153.40 L304.11,153.75 L304.33,154.04 L304.55,154.27 L304.77,154.45 L304.99,154.59 L305.22,154.70 L305.44,154.78 L305.66,154.84 L305.88,154.89 L306.10,154.92" fill="none" stroke="#111" stroke-width="0.6"/>
<path d="M171.6,58 L171.6,158.1 L267.7,158.1" fill="none" stroke="#aaa" stroke-width="0.8"/>
<text x="169.00" y="70.20" font-size="6.9" text-anchor="middle" fill="#111" transform="rotate(-90 169.0 70.2)">% of max</text>
<text x="240.00" y="165.30" font-size="6.8" text-anchor="start" fill="#111">Fluorescein</text>
<rect x="275.60" y="78.20" width="9.20" height="3.80" fill="#000" stroke="#000" stroke-width="0.7"/>
<text x="288.6" y="82.60" font-size="7" fill="#111">miR-142<tspan font-size="4.3" dy="-2.9">+/+</tspan></text>
<rect x="275.60" y="85.95" width="9.20" height="3.80" fill="#7d7d7d" stroke="#7d7d7d" stroke-width="0.7"/>
<text x="288.6" y="90.35" font-size="7" fill="#111">miR-142<tspan font-size="4.3" dy="-2.9">+/-</tspan></text>
<rect x="275.60" y="93.70" width="9.20" height="3.80" fill="#fff" stroke="#999" stroke-width="0.7"/>
<text x="288.6" y="98.10" font-size="7" fill="#111">miR-142<tspan font-size="4.3" dy="-2.9">-/-</tspan></text>
<text x="333.50" y="9.50" font-size="11.2" text-anchor="start" fill="#000" font-weight="bold">C</text>
<line x1="364.50" y1="35.20" x2="364.50" y2="124.00" stroke="#111" stroke-width="0.9"/>
<line x1="362.70" y1="35.40" x2="364.50" y2="35.40" stroke="#111" stroke-width="0.8"/>
<text x="347.40" y="37.90" font-size="7" text-anchor="start" fill="#111">10</text>
<line x1="362.70" y1="64.80" x2="364.50" y2="64.80" stroke="#111" stroke-width="0.8"/>
<text x="347.40" y="67.30" font-size="7" text-anchor="start" fill="#111">1</text>
<line x1="362.70" y1="94.20" x2="364.50" y2="94.20" stroke="#111" stroke-width="0.8"/>
<text x="347.40" y="96.70" font-size="7" text-anchor="start" fill="#111">0.1</text>
<line x1="362.70" y1="123.60" x2="364.50" y2="123.60" stroke="#111" stroke-width="0.8"/>
<text x="347.40" y="126.10" font-size="7" text-anchor="start" fill="#111">0.01</text>
<text x="343.8" y="74.8" font-size="7.1" text-anchor="middle" fill="#111" transform="rotate(-90 343.8 74.8)">% out of total (log<tspan font-size="4" dy="1.5">10</tspan><tspan dy="-1.5">)</tspan></text>
<line x1="364.50" y1="123.50" x2="511.30" y2="123.50" stroke="#111" stroke-width="0.9"/>
<line x1="372.00" y1="123.60" x2="372.00" y2="125.40" stroke="#111" stroke-width="0.7"/>
<text x="372.00" y="133.80" font-size="7" text-anchor="middle" fill="#111">wt</text>
<line x1="386.50" y1="123.60" x2="386.50" y2="125.40" stroke="#111" stroke-width="0.7"/>
<text x="386.50" y="133.80" font-size="7" text-anchor="middle" fill="#111">ko</text>
<line x1="401.20" y1="123.60" x2="401.20" y2="125.40" stroke="#111" stroke-width="0.7"/>
<text x="401.20" y="133.80" font-size="7" text-anchor="middle" fill="#111">wt</text>
<line x1="416.00" y1="123.60" x2="416.00" y2="125.40" stroke="#111" stroke-width="0.7"/>
<text x="416.00" y="133.80" font-size="7" text-anchor="middle" fill="#111">ko</text>
<line x1="430.80" y1="123.60" x2="430.80" y2="125.40" stroke="#111" stroke-width="0.7"/>
<text x="430.80" y="133.80" font-size="7" text-anchor="middle" fill="#111">wt</text>
<line x1="445.60" y1="123.60" x2="445.60" y2="125.40" stroke="#111" stroke-width="0.7"/>
<text x="445.60" y="133.80" font-size="7" text-anchor="middle" fill="#111">ko</text>
<line x1="460.30" y1="123.60" x2="460.30" y2="125.40" stroke="#111" stroke-width="0.7"/>
<text x="460.30" y="133.80" font-size="7" text-anchor="middle" fill="#111">wt</text>
<line x1="475.00" y1="123.60" x2="475.00" y2="125.40" stroke="#111" stroke-width="0.7"/>
<text x="475.00" y="133.80" font-size="7" text-anchor="middle" fill="#111">ko</text>
<line x1="489.70" y1="123.60" x2="489.70" y2="125.40" stroke="#111" stroke-width="0.7"/>
<text x="489.70" y="133.80" font-size="7" text-anchor="middle" fill="#111">wt</text>
<line x1="504.40" y1="123.60" x2="504.40" y2="125.40" stroke="#111" stroke-width="0.7"/>
<text x="504.40" y="133.80" font-size="7" text-anchor="middle" fill="#111">ko</text>
<line x1="370.50" y1="135.30" x2="388.00" y2="135.30" stroke="#888" stroke-width="0.6"/>
<text x="379.25" y="142.90" font-size="7" text-anchor="middle" fill="#111">MP</text>
<line x1="399.70" y1="135.30" x2="417.50" y2="135.30" stroke="#888" stroke-width="0.6"/>
<text x="408.60" y="142.90" font-size="7" text-anchor="middle" fill="#111">MDP</text>
<line x1="429.30" y1="135.30" x2="447.10" y2="135.30" stroke="#888" stroke-width="0.6"/>
<text x="438.20" y="142.90" font-size="7" text-anchor="middle" fill="#111">CDP</text>
<line x1="458.80" y1="135.30" x2="476.50" y2="135.30" stroke="#888" stroke-width="0.6"/>
<text x="467.65" y="142.90" font-size="7" text-anchor="middle" fill="#111">PDC</text>
<line x1="488.20" y1="135.30" x2="505.90" y2="135.30" stroke="#888" stroke-width="0.6"/>
<text x="497.05" y="142.90" font-size="7" text-anchor="middle" fill="#111">BM Ly6C+</text>
<text x="497.05" y="152.30" font-size="7" text-anchor="middle" fill="#111">monocyte</text>
<rect x="368.15" y="99.75" width="2.70" height="2.70" fill="#000" stroke="none" stroke-width="0.6"/>
<rect x="370.65" y="101.25" width="2.70" height="2.70" fill="#000" stroke="none" stroke-width="0.6"/>
<rect x="372.65" y="102.25" width="2.70" height="2.70" fill="#000" stroke="none" stroke-width="0.6"/>
<rect x="369.15" y="103.75" width="2.70" height="2.70" fill="#000" stroke="none" stroke-width="0.6"/>
<rect x="371.65" y="105.25" width="2.70" height="2.70" fill="#000" stroke="none" stroke-width="0.6"/>
<rect x="373.65" y="103.75" width="2.70" height="2.70" fill="#000" stroke="none" stroke-width="0.6"/>
<rect x="370.65" y="106.25" width="2.70" height="2.70" fill="#000" stroke="none" stroke-width="0.6"/>
<line x1="366.60" y1="105.10" x2="377.00" y2="105.10" stroke="#111" stroke-width="0.85"/>
<rect x="382.15" y="106.15" width="2.70" height="2.70" fill="#fff" stroke="#111" stroke-width="0.6"/>
<rect x="385.15" y="106.65" width="2.70" height="2.70" fill="#fff" stroke="#111" stroke-width="0.6"/>
<rect x="387.15" y="108.65" width="2.70" height="2.70" fill="#fff" stroke="#111" stroke-width="0.6"/>
<rect x="384.15" y="109.65" width="2.70" height="2.70" fill="#fff" stroke="#111" stroke-width="0.6"/>
<rect x="386.15" y="111.15" width="2.70" height="2.70" fill="#fff" stroke="#111" stroke-width="0.6"/>
<rect x="388.15" y="110.15" width="2.70" height="2.70" fill="#fff" stroke="#111" stroke-width="0.6"/>
<line x1="380.80" y1="108.70" x2="391.20" y2="108.70" stroke="#111" stroke-width="0.85"/>
<rect x="396.15" y="92.65" width="2.70" height="2.70" fill="#000" stroke="none" stroke-width="0.6"/>
<rect x="398.15" y="93.65" width="2.70" height="2.70" fill="#000" stroke="none" stroke-width="0.6"/>
<rect x="400.65" y="93.15" width="2.70" height="2.70" fill="#000" stroke="none" stroke-width="0.6"/>
<rect x="399.15" y="95.65" width="2.70" height="2.70" fill="#000" stroke="none" stroke-width="0.6"/>
<rect x="401.15" y="96.15" width="2.70" height="2.70" fill="#000" stroke="none" stroke-width="0.6"/>
<rect x="397.15" y="96.15" width="2.70" height="2.70" fill="#000" stroke="none" stroke-width="0.6"/>
<rect x="399.15" y="97.65" width="2.70" height="2.70" fill="#000" stroke="none" stroke-width="0.6"/>
<line x1="395.20" y1="96.20" x2="405.60" y2="96.20" stroke="#111" stroke-width="0.85"/>
<rect x="410.65" y="89.65" width="2.70" height="2.70" fill="#fff" stroke="#111" stroke-width="0.6"/>
<rect x="413.65" y="92.15" width="2.70" height="2.70" fill="#fff" stroke="#111" stroke-width="0.6"/>
<rect x="416.15" y="93.65" width="2.70" height="2.70" fill="#fff" stroke="#111" stroke-width="0.6"/>
<rect x="411.65" y="94.15" width="2.70" height="2.70" fill="#fff" stroke="#111" stroke-width="0.6"/>
<rect x="414.15" y="96.65" width="2.70" height="2.70" fill="#fff" stroke="#111" stroke-width="0.6"/>
<rect x="416.65" y="94.95" width="2.70" height="2.70" fill="#fff" stroke="#111" stroke-width="0.6"/>
<line x1="409.80" y1="95.80" x2="420.20" y2="95.80" stroke="#111" stroke-width="0.85"/>
<path d="M427.00,99.35 L430.00,99.35 L428.50,96.65 Z" fill="#000" stroke="none" stroke-width="0.6"/>
<path d="M429.50,98.35 L432.50,98.35 L431.00,95.65 Z" fill="#000" stroke="none" stroke-width="0.6"/>
<path d="M430.00,100.85 L433.00,100.85 L431.50,98.15 Z" fill="#000" stroke="none" stroke-width="0.6"/>
<path d="M428.00,102.35 L431.00,102.35 L429.50,99.65 Z" fill="#000" stroke="none" stroke-width="0.6"/>
<path d="M431.00,102.65 L434.00,102.65 L432.50,99.95 Z" fill="#000" stroke="none" stroke-width="0.6"/>
<path d="M429.50,103.85 L432.50,103.85 L431.00,101.15 Z" fill="#000" stroke="none" stroke-width="0.6"/>
<line x1="425.00" y1="99.20" x2="435.40" y2="99.20" stroke="#111" stroke-width="0.85"/>
<rect x="443.35" y="88.65" width="2.70" height="2.70" fill="#fff" stroke="#111" stroke-width="0.6"/>
<rect x="440.35" y="93.65" width="2.70" height="2.70" fill="#fff" stroke="#111" stroke-width="0.6"/>
<rect x="444.35" y="95.65" width="2.70" height="2.70" fill="#fff" stroke="#111" stroke-width="0.6"/>
<rect x="446.85" y="95.85" width="2.70" height="2.70" fill="#fff" stroke="#111" stroke-width="0.6"/>
<rect x="444.85" y="99.15" width="2.70" height="2.70" fill="#fff" stroke="#111" stroke-width="0.6"/>
<rect x="443.35" y="101.65" width="2.70" height="2.70" fill="#fff" stroke="#111" stroke-width="0.6"/>
<line x1="440.20" y1="97.80" x2="450.60" y2="97.80" stroke="#111" stroke-width="0.85"/>
<rect x="455.40" y="58.40" width="2.80" height="2.80" fill="#000" stroke="none" stroke-width="0.6"/>
<rect x="457.90" y="57.90" width="2.80" height="2.80" fill="#000" stroke="none" stroke-width="0.6"/>
<rect x="459.90" y="59.90" width="2.80" height="2.80" fill="#000" stroke="none" stroke-width="0.6"/>
<rect x="456.90" y="61.40" width="2.80" height="2.80" fill="#000" stroke="none" stroke-width="0.6"/>
<rect x="459.40" y="62.40" width="2.80" height="2.80" fill="#000" stroke="none" stroke-width="0.6"/>
<rect x="461.40" y="60.90" width="2.80" height="2.80" fill="#000" stroke="none" stroke-width="0.6"/>
<rect x="458.40" y="63.90" width="2.80" height="2.80" fill="#000" stroke="none" stroke-width="0.6"/>
<line x1="454.60" y1="62.00" x2="465.00" y2="62.00" stroke="#111" stroke-width="0.85"/>
<circle cx="472.20" cy="69.00" r="1.35" fill="#fff" stroke="#111" stroke-width="0.6"/>
<circle cx="475.20" cy="68.80" r="1.35" fill="#fff" stroke="#111" stroke-width="0.6"/>
<circle cx="477.00" cy="70.20" r="1.35" fill="#fff" stroke="#111" stroke-width="0.6"/>
<circle cx="471.60" cy="71.00" r="1.35" fill="#fff" stroke="#111" stroke-width="0.6"/>
<circle cx="474.50" cy="70.80" r="1.35" fill="#fff" stroke="#111" stroke-width="0.6"/>
<circle cx="476.20" cy="72.00" r="1.35" fill="#fff" stroke="#111" stroke-width="0.6"/>
<circle cx="473.40" cy="72.20" r="1.35" fill="#fff" stroke="#111" stroke-width="0.6"/>
<line x1="469.00" y1="70.50" x2="479.40" y2="70.50" stroke="#111" stroke-width="0.85"/>
<rect x="484.90" y="36.60" width="2.80" height="2.80" fill="#000" stroke="none" stroke-width="0.6"/>
<rect x="487.90" y="36.10" width="2.80" height="2.80" fill="#000" stroke="none" stroke-width="0.6"/>
<rect x="489.90" y="38.60" width="2.80" height="2.80" fill="#000" stroke="none" stroke-width="0.6"/>
<rect x="486.40" y="39.60" width="2.80" height="2.80" fill="#000" stroke="none" stroke-width="0.6"/>
<rect x="488.90" y="41.10" width="2.80" height="2.80" fill="#000" stroke="none" stroke-width="0.6"/>
<rect x="490.90" y="37.60" width="2.80" height="2.80" fill="#000" stroke="none" stroke-width="0.6"/>
<rect x="487.90" y="42.60" width="2.80" height="2.80" fill="#000" stroke="none" stroke-width="0.6"/>
<line x1="484.10" y1="41.00" x2="494.50" y2="41.00" stroke="#111" stroke-width="0.85"/>
<circle cx="501.60" cy="42.00" r="1.35" fill="#fff" stroke="#111" stroke-width="0.6"/>
<circle cx="504.20" cy="40.40" r="1.35" fill="#fff" stroke="#111" stroke-width="0.6"/>
<circle cx="506.70" cy="41.00" r="1.35" fill="#fff" stroke="#111" stroke-width="0.6"/>
<circle cx="503.20" cy="43.20" r="1.35" fill="#fff" stroke="#111" stroke-width="0.6"/>
<circle cx="505.70" cy="43.40" r="1.35" fill="#fff" stroke="#111" stroke-width="0.6"/>
<circle cx="507.20" cy="42.50" r="1.35" fill="#fff" stroke="#111" stroke-width="0.6"/>
<circle cx="504.20" cy="42.00" r="1.35" fill="#fff" stroke="#111" stroke-width="0.6"/>
<line x1="499.00" y1="42.00" x2="509.40" y2="42.00" stroke="#111" stroke-width="0.85"/>
<line x1="371.70" y1="93.50" x2="385.00" y2="93.50" stroke="#888" stroke-width="0.7"/>
<text x="378.20" y="94.10" font-size="7" text-anchor="middle" fill="#111">*</text>
<line x1="459.90" y1="52.90" x2="473.30" y2="52.90" stroke="#888" stroke-width="0.7"/>
<text x="466.80" y="53.40" font-size="7" text-anchor="middle" fill="#111">*</text>
<text x="0.20" y="182.00" font-size="11.2" text-anchor="start" fill="#000" font-weight="bold">D</text>
<line x1="29.50" y1="210.60" x2="29.50" y2="281.00" stroke="#111" stroke-width="0.9"/>
<line x1="27.30" y1="280.60" x2="29.50" y2="280.60" stroke="#111" stroke-width="0.8"/>
<text x="25.30" y="283.10" font-size="7" text-anchor="end" fill="#111">0</text>
<line x1="27.30" y1="266.78" x2="29.50" y2="266.78" stroke="#111" stroke-width="0.8"/>
<text x="25.30" y="269.28" font-size="7" text-anchor="end" fill="#111">50</text>
<line x1="27.30" y1="252.96" x2="29.50" y2="252.96" stroke="#111" stroke-width="0.8"/>
<text x="25.30" y="255.46" font-size="7" text-anchor="end" fill="#111">100</text>
<line x1="27.30" y1="239.14" x2="29.50" y2="239.14" stroke="#111" stroke-width="0.8"/>
<text x="25.30" y="241.64" font-size="7" text-anchor="end" fill="#111">150</text>
<line x1="27.30" y1="225.32" x2="29.50" y2="225.32" stroke="#111" stroke-width="0.8"/>
<text x="25.30" y="227.82" font-size="7" text-anchor="end" fill="#111">200</text>
<line x1="27.30" y1="211.50" x2="29.50" y2="211.50" stroke="#111" stroke-width="0.8"/>
<text x="25.30" y="214.00" font-size="7" text-anchor="end" fill="#111">250</text>
<text x="7.90" y="246.60" font-size="7" text-anchor="middle" fill="#111" transform="rotate(-90 7.9 246.6)">weight (mg)</text>
<line x1="29.50" y1="280.60" x2="147.00" y2="280.60" stroke="#111" stroke-width="0.9"/>
<line x1="44.00" y1="280.60" x2="44.00" y2="282.60" stroke="#111" stroke-width="0.8"/>
<text x="44.00" y="291.50" font-size="7" text-anchor="middle" fill="#111">wt</text>
<line x1="74.90" y1="280.60" x2="74.90" y2="282.60" stroke="#111" stroke-width="0.8"/>
<text x="74.90" y="291.50" font-size="7" text-anchor="middle" fill="#111">ko</text>
<line x1="104.70" y1="280.60" x2="104.70" y2="282.60" stroke="#111" stroke-width="0.8"/>
<text x="104.70" y="291.50" font-size="7" text-anchor="middle" fill="#111">wt</text>
<line x1="134.60" y1="280.60" x2="134.60" y2="282.60" stroke="#111" stroke-width="0.8"/>
<text x="134.60" y="291.50" font-size="7" text-anchor="middle" fill="#111">ko</text>
<line x1="42.20" y1="295.40" x2="74.50" y2="295.40" stroke="#666" stroke-width="0.7"/>
<line x1="104.70" y1="295.50" x2="136.60" y2="295.50" stroke="#666" stroke-width="0.7"/>
<text x="59.40" y="303.30" font-size="7" text-anchor="middle" fill="#111">Spleen</text>
<text x="120.40" y="303.30" font-size="7" text-anchor="middle" fill="#111">Thymus</text>
<rect x="38.40" y="258.00" width="3.20" height="3.20" fill="#000" stroke="none" stroke-width="0.6"/>
<rect x="39.60" y="260.40" width="3.20" height="3.20" fill="#000" stroke="none" stroke-width="0.6"/>
<rect x="43.00" y="259.80" width="3.20" height="3.20" fill="#000" stroke="none" stroke-width="0.6"/>
<rect x="46.20" y="259.70" width="3.20" height="3.20" fill="#000" stroke="none" stroke-width="0.6"/>
<rect x="43.20" y="263.20" width="3.20" height="3.20" fill="#000" stroke="none" stroke-width="0.6"/>
<rect x="48.00" y="263.40" width="3.20" height="3.20" fill="#000" stroke="none" stroke-width="0.6"/>
<line x1="34.10" y1="262.20" x2="54.70" y2="262.20" stroke="#111" stroke-width="0.85"/>
<path d="M72.95,223.66 L76.85,223.66 L74.90,220.15 Z" fill="#000" stroke="none" stroke-width="0.6"/>
<path d="M77.45,230.45 L81.35,230.45 L79.40,226.94 Z" fill="#000" stroke="none" stroke-width="0.6"/>
<path d="M72.95,233.16 L76.85,233.16 L74.90,229.65 Z" fill="#000" stroke="none" stroke-width="0.6"/>
<path d="M67.95,236.45 L71.85,236.45 L69.90,232.94 Z" fill="#000" stroke="none" stroke-width="0.6"/>
<path d="M72.95,239.95 L76.85,239.95 L74.90,236.44 Z" fill="#000" stroke="none" stroke-width="0.6"/>
<path d="M72.95,248.06 L76.85,248.06 L74.90,244.55 Z" fill="#000" stroke="none" stroke-width="0.6"/>
<line x1="64.10" y1="233.20" x2="84.70" y2="233.20" stroke="#111" stroke-width="0.85"/>
<path d="M97.75,257.13 L101.45,257.13 L99.60,260.47 Z" fill="#000" stroke="none" stroke-width="0.6"/>
<path d="M103.15,257.13 L106.85,257.13 L105.00,260.47 Z" fill="#000" stroke="none" stroke-width="0.6"/>
<path d="M106.95,258.94 L110.65,258.94 L108.80,262.27 Z" fill="#000" stroke="none" stroke-width="0.6"/>
<path d="M102.65,262.13 L106.35,262.13 L104.50,265.47 Z" fill="#000" stroke="none" stroke-width="0.6"/>
<path d="M99.95,259.33 L103.65,259.33 L101.80,262.67 Z" fill="#000" stroke="none" stroke-width="0.6"/>
<line x1="94.40" y1="261.40" x2="114.00" y2="261.40" stroke="#111" stroke-width="0.85"/>
<circle cx="129.20" cy="261.60" r="1.7" fill="#000" stroke="none" stroke-width="0.6"/>
<circle cx="134.80" cy="264.50" r="1.7" fill="#000" stroke="none" stroke-width="0.6"/>
<circle cx="134.80" cy="268.60" r="1.7" fill="#000" stroke="none" stroke-width="0.6"/>
<circle cx="137.40" cy="259.60" r="1.7" fill="#000" stroke="none" stroke-width="0.6"/>
<circle cx="139.80" cy="261.20" r="1.7" fill="#000" stroke="none" stroke-width="0.6"/>
<line x1="124.40" y1="262.60" x2="144.00" y2="262.60" stroke="#111" stroke-width="0.85"/>
<line x1="46.50" y1="213.80" x2="73.10" y2="213.80" stroke="#888" stroke-width="0.7"/>
<text x="60.40" y="214.60" font-size="7" text-anchor="middle" fill="#111">*</text>
<text x="157.10" y="182.00" font-size="11.2" text-anchor="start" fill="#000" font-weight="bold">E</text>
<line x1="183.70" y1="181.30" x2="337.00" y2="181.30" stroke="#aaa" stroke-width="0.8"/>
<text x="185.40" y="188.00" font-size="7" text-anchor="start" fill="#111">blood</text>
<line x1="178.50" y1="240.30" x2="252.50" y2="240.30" stroke="#111" stroke-width="0.9"/>
<line x1="178.50" y1="191.80" x2="178.50" y2="240.70" stroke="#111" stroke-width="0.9"/>
<line x1="176.30" y1="240.30" x2="178.50" y2="240.30" stroke="#111" stroke-width="0.8"/>
<text x="176.10" y="242.80" font-size="7" text-anchor="end" fill="#111">0</text>
<line x1="176.30" y1="216.20" x2="178.50" y2="216.20" stroke="#111" stroke-width="0.8"/>
<text x="176.10" y="218.70" font-size="7" text-anchor="end" fill="#111">10</text>
<line x1="176.30" y1="192.20" x2="178.50" y2="192.20" stroke="#111" stroke-width="0.8"/>
<text x="176.10" y="194.70" font-size="7" text-anchor="end" fill="#111">20</text>
<line x1="177.40" y1="228.25" x2="178.50" y2="228.25" stroke="#111" stroke-width="0.7"/>
<line x1="177.40" y1="204.20" x2="178.50" y2="204.20" stroke="#111" stroke-width="0.7"/>
<rect x="181.20" y="232.20" width="8.40" height="8.10" fill="#000" stroke="#111" stroke-width="0.6"/>
<rect x="193.50" y="226.30" width="8.10" height="14.00" fill="#fff" stroke="#111" stroke-width="0.6"/>
<line x1="197.55" y1="226.30" x2="197.55" y2="225.10" stroke="#333" stroke-width="0.7"/>
<line x1="196.45" y1="225.10" x2="198.65" y2="225.10" stroke="#333" stroke-width="0.7"/>
<rect x="205.40" y="230.40" width="8.30" height="9.90" fill="#000" stroke="#111" stroke-width="0.6"/>
<line x1="209.55" y1="230.40" x2="209.55" y2="228.00" stroke="#333" stroke-width="0.7"/>
<line x1="208.45" y1="228.00" x2="210.65" y2="228.00" stroke="#333" stroke-width="0.7"/>
<rect x="217.60" y="226.20" width="8.40" height="14.10" fill="#fff" stroke="#111" stroke-width="0.6"/>
<line x1="221.80" y1="226.20" x2="221.80" y2="223.10" stroke="#333" stroke-width="0.7"/>
<line x1="220.70" y1="223.10" x2="222.90" y2="223.10" stroke="#333" stroke-width="0.7"/>
<rect x="230.20" y="210.00" width="8.00" height="30.30" fill="#000" stroke="#111" stroke-width="0.6"/>
<line x1="234.20" y1="210.00" x2="234.20" y2="203.20" stroke="#333" stroke-width="0.7"/>
<line x1="233.10" y1="203.20" x2="235.30" y2="203.20" stroke="#333" stroke-width="0.7"/>
<rect x="242.20" y="208.20" width="8.10" height="32.10" fill="#fff" stroke="#111" stroke-width="0.6"/>
<line x1="246.25" y1="208.20" x2="246.25" y2="205.50" stroke="#333" stroke-width="0.7"/>
<line x1="245.15" y1="205.50" x2="247.35" y2="205.50" stroke="#333" stroke-width="0.7"/>
<line x1="184.20" y1="222.40" x2="197.70" y2="222.40" stroke="#888" stroke-width="0.7"/>
<text x="191.30" y="223.60" font-size="7" text-anchor="middle" fill="#111">*</text>
<line x1="185.40" y1="240.30" x2="185.40" y2="241.80" stroke="#111" stroke-width="0.6"/>
<text x="185.40" y="248.00" font-size="7" text-anchor="middle" fill="#111">wt</text>
<line x1="197.50" y1="240.30" x2="197.50" y2="241.80" stroke="#111" stroke-width="0.6"/>
<text x="197.50" y="248.00" font-size="7" text-anchor="middle" fill="#111">ko</text>
<line x1="209.50" y1="240.30" x2="209.50" y2="241.80" stroke="#111" stroke-width="0.6"/>
<text x="209.50" y="248.00" font-size="7" text-anchor="middle" fill="#111">wt</text>
<line x1="221.80" y1="240.30" x2="221.80" y2="241.80" stroke="#111" stroke-width="0.6"/>
<text x="221.80" y="248.00" font-size="7" text-anchor="middle" fill="#111">ko</text>
<line x1="234.20" y1="240.30" x2="234.20" y2="241.80" stroke="#111" stroke-width="0.6"/>
<text x="234.20" y="248.00" font-size="7" text-anchor="middle" fill="#111">wt</text>
<line x1="246.20" y1="240.30" x2="246.20" y2="241.80" stroke="#111" stroke-width="0.6"/>
<text x="246.20" y="248.00" font-size="7" text-anchor="middle" fill="#111">ko</text>
<text x="165.90" y="216.20" font-size="7.2" text-anchor="middle" fill="#111" transform="rotate(-90 165.9 216.2)">% out of total</text>
<line x1="185.00" y1="252.30" x2="337.00" y2="252.30" stroke="#aaa" stroke-width="0.8"/>
<text x="186.20" y="259.20" font-size="7" text-anchor="start" fill="#111">spleen</text>
<line x1="179.20" y1="304.60" x2="252.50" y2="304.60" stroke="#111" stroke-width="0.9"/>
<line x1="179.20" y1="256.40" x2="179.20" y2="305.00" stroke="#111" stroke-width="0.9"/>
<line x1="177.00" y1="304.40" x2="179.20" y2="304.40" stroke="#111" stroke-width="0.8"/>
<text x="176.80" y="306.90" font-size="7" text-anchor="end" fill="#111">0</text>
<line x1="177.00" y1="280.30" x2="179.20" y2="280.30" stroke="#111" stroke-width="0.8"/>
<text x="176.80" y="282.80" font-size="7" text-anchor="end" fill="#111">1</text>
<line x1="177.00" y1="256.30" x2="179.20" y2="256.30" stroke="#111" stroke-width="0.8"/>
<text x="176.80" y="258.80" font-size="7" text-anchor="end" fill="#111">2</text>
<line x1="178.10" y1="292.30" x2="179.20" y2="292.30" stroke="#111" stroke-width="0.7"/>
<line x1="178.10" y1="268.30" x2="179.20" y2="268.30" stroke="#111" stroke-width="0.7"/>
<rect x="181.90" y="293.50" width="8.60" height="11.10" fill="#000" stroke="#111" stroke-width="0.6"/>
<rect x="193.50" y="291.70" width="8.50" height="12.90" fill="#fff" stroke="#111" stroke-width="0.6"/>
<rect x="205.40" y="296.20" width="8.20" height="8.40" fill="#000" stroke="#111" stroke-width="0.6"/>
<rect x="217.50" y="302.30" width="8.10" height="2.30" fill="#fff" stroke="#111" stroke-width="0.6"/>
<rect x="229.60" y="294.60" width="8.30" height="10.00" fill="#000" stroke="#111" stroke-width="0.6"/>
<rect x="241.60" y="272.20" width="8.60" height="32.40" fill="#fff" stroke="#111" stroke-width="0.6"/>
<line x1="245.90" y1="272.20" x2="245.90" y2="264.20" stroke="#333" stroke-width="0.7"/>
<line x1="244.80" y1="264.20" x2="247.00" y2="264.20" stroke="#333" stroke-width="0.7"/>
<line x1="212.00" y1="294.30" x2="225.30" y2="294.30" stroke="#888" stroke-width="0.7"/>
<text x="216.80" y="294.10" font-size="7" text-anchor="middle" fill="#111">*</text>
<line x1="233.30" y1="262.30" x2="249.30" y2="262.30" stroke="#888" stroke-width="0.7"/>
<text x="240.60" y="262.90" font-size="7" text-anchor="middle" fill="#111">*</text>
<line x1="185.40" y1="304.60" x2="185.40" y2="306.10" stroke="#111" stroke-width="0.6"/>
<text x="185.40" y="312.80" font-size="7" text-anchor="middle" fill="#111">wt</text>
<line x1="197.50" y1="304.60" x2="197.50" y2="306.10" stroke="#111" stroke-width="0.6"/>
<text x="197.50" y="312.80" font-size="7" text-anchor="middle" fill="#111">ko</text>
<line x1="209.50" y1="304.60" x2="209.50" y2="306.10" stroke="#111" stroke-width="0.6"/>
<text x="209.50" y="312.80" font-size="7" text-anchor="middle" fill="#111">wt</text>
<line x1="221.80" y1="304.60" x2="221.80" y2="306.10" stroke="#111" stroke-width="0.6"/>
<text x="221.80" y="312.80" font-size="7" text-anchor="middle" fill="#111">ko</text>
<line x1="234.20" y1="304.60" x2="234.20" y2="306.10" stroke="#111" stroke-width="0.6"/>
<text x="234.20" y="312.80" font-size="7" text-anchor="middle" fill="#111">wt</text>
<line x1="246.20" y1="304.60" x2="246.20" y2="306.10" stroke="#111" stroke-width="0.6"/>
<text x="246.20" y="312.80" font-size="7" text-anchor="middle" fill="#111">ko</text>
<text x="165.90" y="278.50" font-size="7.2" text-anchor="middle" fill="#111" transform="rotate(-90 165.9 278.5)">% out of total</text>
<line x1="181.90" y1="313.70" x2="199.60" y2="313.70" stroke="#999" stroke-width="0.6"/>
<line x1="205.80" y1="313.70" x2="225.00" y2="313.70" stroke="#999" stroke-width="0.6"/>
<line x1="230.40" y1="313.70" x2="250.40" y2="313.70" stroke="#999" stroke-width="0.6"/>
<text x="191.60" y="320.60" font-size="7" text-anchor="middle" fill="#111">Ly6C+</text>
<text x="191.60" y="328.80" font-size="7" text-anchor="middle" fill="#111">mono</text>
<text x="215.60" y="320.60" font-size="7" text-anchor="middle" fill="#111">Ly6C-</text>
<text x="215.60" y="328.80" font-size="7" text-anchor="middle" fill="#111">mono</text>
<text x="240.20" y="320.60" font-size="7" text-anchor="middle" fill="#111">neutro-</text>
<text x="240.20" y="328.80" font-size="7" text-anchor="middle" fill="#111">phil</text>
<line x1="365.80" y1="181.20" x2="520.00" y2="181.20" stroke="#aaa" stroke-width="0.8"/>
<text x="365.50" y="188.00" font-size="7.1" text-anchor="start" fill="#111">SDLN</text>
<line x1="363.20" y1="240.30" x2="436.00" y2="240.30" stroke="#111" stroke-width="0.9"/>
<line x1="363.20" y1="192.60" x2="363.20" y2="240.70" stroke="#111" stroke-width="0.9"/>
<line x1="361.00" y1="240.30" x2="363.20" y2="240.30" stroke="#111" stroke-width="0.8"/>
<text x="360.80" y="242.80" font-size="7" text-anchor="end" fill="#111">0</text>
<line x1="361.00" y1="221.30" x2="363.20" y2="221.30" stroke="#111" stroke-width="0.8"/>
<text x="360.80" y="223.80" font-size="7" text-anchor="end" fill="#111">0.1</text>
<line x1="361.00" y1="202.50" x2="363.20" y2="202.50" stroke="#111" stroke-width="0.8"/>
<text x="360.80" y="205.00" font-size="7" text-anchor="end" fill="#111">0.2</text>
<line x1="362.10" y1="230.80" x2="363.20" y2="230.80" stroke="#111" stroke-width="0.7"/>
<line x1="362.10" y1="211.90" x2="363.20" y2="211.90" stroke="#111" stroke-width="0.7"/>
<line x1="362.10" y1="193.20" x2="363.20" y2="193.20" stroke="#111" stroke-width="0.7"/>
<rect x="364.80" y="228.50" width="8.80" height="11.80" fill="#000" stroke="#111" stroke-width="0.6"/>
<line x1="369.20" y1="228.50" x2="369.20" y2="226.40" stroke="#333" stroke-width="0.7"/>
<line x1="368.10" y1="226.40" x2="370.30" y2="226.40" stroke="#333" stroke-width="0.7"/>
<rect x="377.20" y="202.00" width="8.30" height="38.30" fill="#fff" stroke="#111" stroke-width="0.6"/>
<line x1="381.35" y1="202.00" x2="381.35" y2="196.80" stroke="#333" stroke-width="0.7"/>
<line x1="380.25" y1="196.80" x2="382.45" y2="196.80" stroke="#333" stroke-width="0.7"/>
<rect x="389.30" y="232.40" width="8.40" height="7.90" fill="#000" stroke="#111" stroke-width="0.6"/>
<rect x="401.50" y="233.40" width="8.30" height="6.90" fill="#fff" stroke="#111" stroke-width="0.6"/>
<line x1="405.65" y1="233.40" x2="405.65" y2="231.80" stroke="#333" stroke-width="0.7"/>
<line x1="404.55" y1="231.80" x2="406.75" y2="231.80" stroke="#333" stroke-width="0.7"/>
<rect x="413.40" y="231.30" width="8.40" height="9.00" fill="#000" stroke="#111" stroke-width="0.6"/>
<line x1="417.60" y1="231.30" x2="417.60" y2="229.20" stroke="#333" stroke-width="0.7"/>
<line x1="416.50" y1="229.20" x2="418.70" y2="229.20" stroke="#333" stroke-width="0.7"/>
<rect x="425.30" y="199.30" width="9.00" height="41.00" fill="#fff" stroke="#111" stroke-width="0.6"/>
<line x1="429.80" y1="199.30" x2="429.80" y2="194.70" stroke="#333" stroke-width="0.7"/>
<line x1="428.70" y1="194.70" x2="430.90" y2="194.70" stroke="#333" stroke-width="0.7"/>
<line x1="368.40" y1="194.20" x2="382.00" y2="194.20" stroke="#888" stroke-width="0.7"/>
<text x="375.10" y="194.70" font-size="7" text-anchor="middle" fill="#111">*</text>
<line x1="416.50" y1="194.20" x2="431.20" y2="194.20" stroke="#888" stroke-width="0.7"/>
<text x="422.80" y="194.70" font-size="7" text-anchor="middle" fill="#111">*</text>
<line x1="369.20" y1="240.30" x2="369.20" y2="241.80" stroke="#111" stroke-width="0.6"/>
<line x1="381.30" y1="240.30" x2="381.30" y2="241.80" stroke="#111" stroke-width="0.6"/>
<line x1="393.50" y1="240.30" x2="393.50" y2="241.80" stroke="#111" stroke-width="0.6"/>
<line x1="405.60" y1="240.30" x2="405.60" y2="241.80" stroke="#111" stroke-width="0.6"/>
<line x1="417.60" y1="240.30" x2="417.60" y2="241.80" stroke="#111" stroke-width="0.6"/>
<line x1="429.80" y1="240.30" x2="429.80" y2="241.80" stroke="#111" stroke-width="0.6"/>
<text x="343.40" y="215.40" font-size="7.2" text-anchor="middle" fill="#111" transform="rotate(-90 343.4 215.4)">% out of total</text>
<line x1="364.00" y1="251.80" x2="520.00" y2="251.80" stroke="#aaa" stroke-width="0.8"/>
<text x="365.30" y="259.40" font-size="7" text-anchor="start" fill="#111">thymus</text>
<line x1="362.80" y1="305.00" x2="436.00" y2="305.00" stroke="#111" stroke-width="0.9"/>
<line x1="362.80" y1="255.00" x2="362.80" y2="305.40" stroke="#111" stroke-width="0.9"/>
<line x1="360.60" y1="305.00" x2="362.80" y2="305.00" stroke="#111" stroke-width="0.8"/>
<text x="360.40" y="307.50" font-size="7" text-anchor="end" fill="#111">0</text>
<line x1="360.60" y1="285.50" x2="362.80" y2="285.50" stroke="#111" stroke-width="0.8"/>
<text x="360.40" y="288.00" font-size="7" text-anchor="end" fill="#111">0.05</text>
<line x1="360.60" y1="265.90" x2="362.80" y2="265.90" stroke="#111" stroke-width="0.8"/>
<text x="360.40" y="268.40" font-size="7" text-anchor="end" fill="#111">0.1</text>
<line x1="361.70" y1="295.20" x2="362.80" y2="295.20" stroke="#111" stroke-width="0.7"/>
<line x1="361.70" y1="275.70" x2="362.80" y2="275.70" stroke="#111" stroke-width="0.7"/>
<line x1="361.70" y1="256.10" x2="362.80" y2="256.10" stroke="#111" stroke-width="0.7"/>
<rect x="365.30" y="299.70" width="8.00" height="5.30" fill="#000" stroke="#111" stroke-width="0.6"/>
<rect x="376.80" y="295.10" width="8.50" height="9.90" fill="#fff" stroke="#111" stroke-width="0.6"/>
<line x1="381.05" y1="295.10" x2="381.05" y2="294.60" stroke="#333" stroke-width="0.7"/>
<line x1="379.95" y1="294.60" x2="382.15" y2="294.60" stroke="#333" stroke-width="0.7"/>
<rect x="389.30" y="301.50" width="8.00" height="3.50" fill="#000" stroke="#111" stroke-width="0.6"/>
<rect x="401.30" y="302.90" width="8.60" height="2.10" fill="#fff" stroke="#111" stroke-width="0.6"/>
<rect x="413.30" y="298.30" width="8.00" height="6.70" fill="#000" stroke="#111" stroke-width="0.6"/>
<rect x="425.60" y="259.70" width="9.00" height="45.30" fill="#fff" stroke="#111" stroke-width="0.6"/>
<line x1="430.10" y1="259.70" x2="430.10" y2="258.30" stroke="#333" stroke-width="0.7"/>
<line x1="429.00" y1="258.30" x2="431.20" y2="258.30" stroke="#333" stroke-width="0.7"/>
<line x1="368.00" y1="291.70" x2="384.00" y2="291.70" stroke="#888" stroke-width="0.7"/>
<text x="374.70" y="291.60" font-size="7" text-anchor="middle" fill="#111">*</text>
<line x1="416.00" y1="255.70" x2="432.00" y2="255.70" stroke="#888" stroke-width="0.7"/>
<text x="422.70" y="256.40" font-size="7" text-anchor="middle" fill="#111">*</text>
<line x1="369.20" y1="305.00" x2="369.20" y2="306.50" stroke="#111" stroke-width="0.6"/>
<text x="369.20" y="313.00" font-size="7" text-anchor="middle" fill="#111">wt</text>
<line x1="381.30" y1="305.00" x2="381.30" y2="306.50" stroke="#111" stroke-width="0.6"/>
<text x="381.30" y="313.00" font-size="7" text-anchor="middle" fill="#111">ko</text>
<line x1="393.50" y1="305.00" x2="393.50" y2="306.50" stroke="#111" stroke-width="0.6"/>
<text x="393.50" y="313.00" font-size="7" text-anchor="middle" fill="#111">wt</text>
<line x1="405.60" y1="305.00" x2="405.60" y2="306.50" stroke="#111" stroke-width="0.6"/>
<text x="405.60" y="313.00" font-size="7" text-anchor="middle" fill="#111">ko</text>
<line x1="417.60" y1="305.00" x2="417.60" y2="306.50" stroke="#111" stroke-width="0.6"/>
<text x="417.60" y="313.00" font-size="7" text-anchor="middle" fill="#111">wt</text>
<line x1="429.80" y1="305.00" x2="429.80" y2="306.50" stroke="#111" stroke-width="0.6"/>
<text x="429.80" y="313.00" font-size="7" text-anchor="middle" fill="#111">ko</text>
<text x="343.40" y="278.50" font-size="7.2" text-anchor="middle" fill="#111" transform="rotate(-90 343.4 278.5)">% out of total</text>
<line x1="365.40" y1="313.70" x2="384.60" y2="313.70" stroke="#999" stroke-width="0.6"/>
<line x1="390.00" y1="313.70" x2="410.00" y2="313.70" stroke="#999" stroke-width="0.6"/>
<line x1="414.60" y1="313.70" x2="435.20" y2="313.70" stroke="#999" stroke-width="0.6"/>
<text x="375.30" y="320.80" font-size="7" text-anchor="middle" fill="#111">Ly6C+</text>
<text x="375.30" y="329.00" font-size="7" text-anchor="middle" fill="#111">mono</text>
<text x="399.30" y="320.80" font-size="7" text-anchor="middle" fill="#111">Ly6C-</text>
<text x="399.30" y="329.00" font-size="7" text-anchor="middle" fill="#111">mono</text>
<text x="424.50" y="320.80" font-size="7" text-anchor="middle" fill="#111">neutro-</text>
<text x="424.50" y="329.00" font-size="7" text-anchor="middle" fill="#111">phil</text>
<rect x="262.30" y="205.80" width="35.10" height="33.80" fill="#fff" stroke="#b8b8b8" stroke-width="0.8"/>
<clipPath id="c1"><rect x="262.90" y="206.40" width="33.90" height="32.60"/></clipPath>
<g clip-path="url(#c1)"><g filter="url(#sp1)">
<rect x="258.3" y="201.8" width="43.099999999999966" height="41.79999999999998" fill="#000" fill-opacity="0.0"/>
<ellipse cx="279.5" cy="226.5" rx="8.5" ry="7.0" fill="#000" fill-opacity="0.42"/>
<ellipse cx="286.0" cy="228.0" rx="5.0" ry="8.0" fill="#000" fill-opacity="0.18"/>
<ellipse cx="280.8" cy="217.0" rx="6.2" ry="3.8" fill="#000" fill-opacity="1"/>
<ellipse cx="267.3" cy="223.5" rx="2.4" ry="5.5" fill="#000" fill-opacity="0.62"/>
<ellipse cx="267.0" cy="234.6" rx="4.8" ry="3.8" fill="#000" fill-opacity="1"/>
<ellipse cx="280.5" cy="235.0" rx="3.4" ry="2.8" fill="#000" fill-opacity="0.9"/>
<ellipse cx="274.0" cy="233.0" rx="3.5" ry="3.0" fill="#000" fill-opacity="0.55"/>
<ellipse cx="278.0" cy="224.0" rx="4.0" ry="3.0" fill="#000" fill-opacity="0.35"/>
</g></g>
<rect x="272.60" y="209.40" width="21.40" height="11.00" fill="none" stroke="#a0a0a0" stroke-width="0.8"/>
<text x="263.20" y="203.80" font-size="7" text-anchor="start" fill="#111">wt</text>
<text x="263.20" y="214.60" font-size="7" text-anchor="start" fill="#111">23</text>
<rect x="300.10" y="205.80" width="34.60" height="34.30" fill="#fff" stroke="#b8b8b8" stroke-width="0.8"/>
<clipPath id="c2"><rect x="300.70" y="206.40" width="33.40" height="33.10"/></clipPath>
<g clip-path="url(#c2)"><g filter="url(#sp2)">
<rect x="296.1" y="201.8" width="42.599999999999966" height="42.29999999999998" fill="#000" fill-opacity="0.0"/>
<ellipse cx="319.5" cy="215.9" rx="5.4" ry="2.9" fill="#000" fill-opacity="1" transform="rotate(-10 319.5 215.9)"/>
<ellipse cx="311.5" cy="219.5" rx="4.5" ry="2.2" fill="#000" fill-opacity="0.6" transform="rotate(-35 311.5 219.5)"/>
<ellipse cx="305.5" cy="225.0" rx="4.2" ry="7.0" fill="#000" fill-opacity="0.45"/>
<ellipse cx="305.0" cy="235.0" rx="4.4" ry="3.6" fill="#000" fill-opacity="1"/>
<ellipse cx="315.5" cy="226.0" rx="6.5" ry="6.0" fill="#000" fill-opacity="0.33"/>
<ellipse cx="320.0" cy="232.0" rx="6.5" ry="4.2" fill="#000" fill-opacity="0.38"/>
<ellipse cx="313.0" cy="226.0" rx="13.0" ry="12.0" fill="#000" fill-opacity="0.12"/>
</g></g>
<rect x="309.00" y="209.80" width="22.60" height="10.60" fill="none" stroke="#a0a0a0" stroke-width="0.8"/>
<text x="301.00" y="203.80" font-size="7" text-anchor="start" fill="#111">ko</text>
<text x="301.00" y="214.60" font-size="7" text-anchor="start" fill="#111">22</text>
<text x="260.00" y="229.20" font-size="6.8" text-anchor="middle" fill="#111" transform="rotate(-90 260.0 229.2)">Gr1</text>
<text x="298.80" y="248.10" font-size="7" text-anchor="start" fill="#111">CD11b</text>
<rect x="261.90" y="268.90" width="34.00" height="35.00" fill="#fff" stroke="#b8b8b8" stroke-width="0.8"/>
<clipPath id="c3"><rect x="262.50" y="269.50" width="32.80" height="33.80"/></clipPath>
<g clip-path="url(#c3)"><g filter="url(#sp0)">
<rect x="257.9" y="264.9" width="42.0" height="43.0" fill="#000" fill-opacity="0.0"/>
<polygon points="262,283 270,281 278,282.5 281,288 283,294 282,304 262,304" fill="#000" fill-opacity="0.55"/>
<ellipse cx="267.0" cy="294.5" rx="6.0" ry="8.5" fill="#000" fill-opacity="0.45"/>
<ellipse cx="279.5" cy="297.5" rx="3.5" ry="3.0" fill="#000" fill-opacity="0.3"/>
<polygon points="279,291 283.5,282 288,275.5 290.5,277 288,285 284,294" fill="#000" fill-opacity="0.4"/>
<polygon points="281,293 292,295 295,304 281,304" fill="#000" fill-opacity="0.3"/>
<polygon points="262,279.5 276,278.5 280,283.5 262,285" fill="#000" fill-opacity="0.25"/>
<ellipse cx="285" cy="286" rx="8" ry="9" fill="#000" fill-opacity="0.1"/>
</g></g>
<rect x="281.40" y="273.20" width="12.50" height="11.20" fill="none" stroke="#a0a0a0" stroke-width="0.8"/>
<text x="262.80" y="266.90" font-size="7" text-anchor="start" fill="#111">wt</text>
<text x="262.80" y="277.70" font-size="7" text-anchor="start" fill="#111">1.1</text>
<rect x="298.60" y="268.90" width="34.20" height="35.00" fill="#fff" stroke="#b8b8b8" stroke-width="0.8"/>
<clipPath id="c4"><rect x="299.20" y="269.50" width="33.00" height="33.80"/></clipPath>
<g clip-path="url(#c4)"><g filter="url(#sp1)">
<rect x="294.6" y="264.9" width="42.19999999999999" height="43.0" fill="#000" fill-opacity="0.0"/>
<polygon points="299,284 308,280 316,277 319.5,282 318.5,292 320,304 299,304" fill="#000" fill-opacity="0.6"/>
<ellipse cx="306.0" cy="294.0" rx="7.0" ry="8.5" fill="#000" fill-opacity="0.45"/>
<polygon points="316,283 322,277 327.5,274.5 329.5,277 324,285 320,291" fill="#000" fill-opacity="0.4"/>
<polygon points="318,287 330,286 332,304 318,304" fill="#000" fill-opacity="0.35"/>
<polygon points="299,281 313,276.5 318,278 300,287" fill="#000" fill-opacity="0.28"/>
<ellipse cx="322" cy="287" rx="9" ry="9" fill="#000" fill-opacity="0.1"/>
</g></g>
<rect x="317.70" y="273.20" width="13.20" height="11.80" fill="none" stroke="#a0a0a0" stroke-width="0.8"/>
<text x="299.50" y="266.90" font-size="7" text-anchor="start" fill="#111">ko</text>
<text x="299.50" y="277.70" font-size="7" text-anchor="start" fill="#111">2.3</text>
<text x="260.00" y="294.40" font-size="6.8" text-anchor="middle" fill="#111" transform="rotate(-90 260.0 294.4)">Gr1</text>
<text x="299.40" y="313.60" font-size="7" text-anchor="start" fill="#111">CD11b</text>
<rect x="444.40" y="204.60" width="34.00" height="34.20" fill="#fff" stroke="#b8b8b8" stroke-width="0.8"/>
<clipPath id="c5"><rect x="445.00" y="205.20" width="32.80" height="33.00"/></clipPath>
<g clip-path="url(#c5)"><g filter="url(#sp2)">
<rect x="440.4" y="200.6" width="42.0" height="42.20000000000002" fill="#000" fill-opacity="0.0"/>
<polygon points="444,229 453,228 459,230 462,233 463,239 444,239" fill="#000" fill-opacity="0.85"/>
<polygon points="444,221 450,219.5 455,221.5 457,228 444,230" fill="#000" fill-opacity="0.55"/>
<ellipse cx="450" cy="231" rx="5" ry="6" fill="#000" fill-opacity="0.3"/>
<ellipse cx="465" cy="231.5" rx="7" ry="5.5" fill="#000" fill-opacity="0.33"/>
<ellipse cx="461" cy="224" rx="10" ry="7" fill="#000" fill-opacity="0.12"/>
<ellipse cx="468.5" cy="215.5" rx="2.5" ry="1.6" fill="#000" fill-opacity="0.3"/>
</g></g>
<rect x="458.10" y="209.20" width="17.80" height="9.20" fill="none" stroke="#a0a0a0" stroke-width="0.8"/>
<text x="445.30" y="202.60" font-size="7" text-anchor="start" fill="#111">wt</text>
<text x="445.30" y="213.40" font-size="7" text-anchor="start" fill="#111">0.1</text>
<rect x="483.60" y="204.80" width="33.80" height="34.20" fill="#fff" stroke="#b8b8b8" stroke-width="0.8"/>
<clipPath id="c6"><rect x="484.20" y="205.40" width="32.60" height="33.00"/></clipPath>
<g clip-path="url(#c6)"><g filter="url(#sp0)">
<rect x="479.6" y="200.8" width="41.799999999999955" height="42.19999999999999" fill="#000" fill-opacity="0.0"/>
<polygon points="483,220 490,218 495,221 497,229 499,239 483,239" fill="#000" fill-opacity="0.82"/>
<ellipse cx="489" cy="230" rx="5" ry="7" fill="#000" fill-opacity="0.3"/>
<ellipse cx="500" cy="226" rx="13" ry="6" fill="#000" fill-opacity="0.38" transform="rotate(-40 500 226)"/>
<ellipse cx="508" cy="216" rx="8" ry="3" fill="#000" fill-opacity="0.3" transform="rotate(-35 508 216)"/>
<ellipse cx="503" cy="232.5" rx="7" ry="5" fill="#000" fill-opacity="0.4"/>
<ellipse cx="500" cy="226" rx="12" ry="10" fill="#000" fill-opacity="0.1"/>
</g></g>
<rect x="497.40" y="209.20" width="18.40" height="9.20" fill="none" stroke="#a0a0a0" stroke-width="0.8"/>
<text x="484.50" y="202.80" font-size="7" text-anchor="start" fill="#111">ko</text>
<text x="484.50" y="213.60" font-size="7" text-anchor="start" fill="#111">0.6</text>
<text x="442.00" y="229.30" font-size="6.8" text-anchor="middle" fill="#111" transform="rotate(-90 442.0 229.3)">Gr1</text>
<text x="481.60" y="248.20" font-size="7" text-anchor="start" fill="#111">CD11b</text>
<rect x="444.00" y="269.30" width="34.20" height="34.50" fill="#fff" stroke="#b8b8b8" stroke-width="0.8"/>
<clipPath id="c7"><rect x="444.60" y="269.90" width="33.00" height="33.30"/></clipPath>
<g clip-path="url(#c7)"><g filter="url(#sp1)">
<rect x="440.0" y="265.3" width="42.19999999999999" height="42.5" fill="#000" fill-opacity="0.0"/>
<ellipse cx="450.3" cy="297.2" rx="6.0" ry="5.3" fill="#000" fill-opacity="1"/>
<ellipse cx="450.5" cy="290.0" rx="6.0" ry="8.0" fill="#000" fill-opacity="0.2"/>
<ellipse cx="466.3" cy="293.0" rx="2.5" ry="2.5" fill="#000" fill-opacity="0.3"/>
<ellipse cx="457.0" cy="294.0" rx="7.0" ry="5.0" fill="#000" fill-opacity="0.16"/>
<ellipse cx="462.0" cy="285.0" rx="9.0" ry="8.0" fill="#000" fill-opacity="0.08"/>
<ellipse cx="469.0" cy="279.5" rx="3.5" ry="2.0" fill="#000" fill-opacity="0.2"/>
</g></g>
<rect x="461.00" y="273.60" width="14.50" height="10.10" fill="none" stroke="#a0a0a0" stroke-width="0.8"/>
<text x="444.90" y="267.30" font-size="7" text-anchor="start" fill="#111">wt</text>
<text x="444.90" y="278.10" font-size="7" text-anchor="start" fill="#111">0.04</text>
<rect x="484.00" y="269.30" width="34.20" height="34.50" fill="#fff" stroke="#b8b8b8" stroke-width="0.8"/>
<clipPath id="c8"><rect x="484.60" y="269.90" width="33.00" height="33.30"/></clipPath>
<g clip-path="url(#c8)"><g filter="url(#sp2)">
<rect x="480.0" y="265.3" width="42.200000000000045" height="42.5" fill="#000" fill-opacity="0.0"/>
<ellipse cx="490.6" cy="297.2" rx="6.0" ry="5.3" fill="#000" fill-opacity="1"/>
<ellipse cx="497.0" cy="287.0" rx="11.0" ry="6.0" fill="#000" fill-opacity="0.22" transform="rotate(-45 497.0 287.0)"/>
<ellipse cx="506.5" cy="278.5" rx="4.0" ry="2.5" fill="#000" fill-opacity="0.36"/>
<ellipse cx="491.0" cy="289.0" rx="5.5" ry="7.0" fill="#000" fill-opacity="0.26"/>
<ellipse cx="500.0" cy="290.0" rx="10.0" ry="8.0" fill="#000" fill-opacity="0.08"/>
</g></g>
<rect x="501.00" y="273.60" width="14.50" height="10.10" fill="none" stroke="#a0a0a0" stroke-width="0.8"/>
<text x="484.90" y="267.30" font-size="7" text-anchor="start" fill="#111">ko</text>
<text x="484.90" y="278.10" font-size="7" text-anchor="start" fill="#111">0.18</text>
<text x="442.00" y="294.20" font-size="6.8" text-anchor="middle" fill="#111" transform="rotate(-90 442.0 294.2)">Gr1</text>
<text x="482.80" y="314.20" font-size="7" text-anchor="start" fill="#111">CD11b</text>
</svg>
</body></html>
